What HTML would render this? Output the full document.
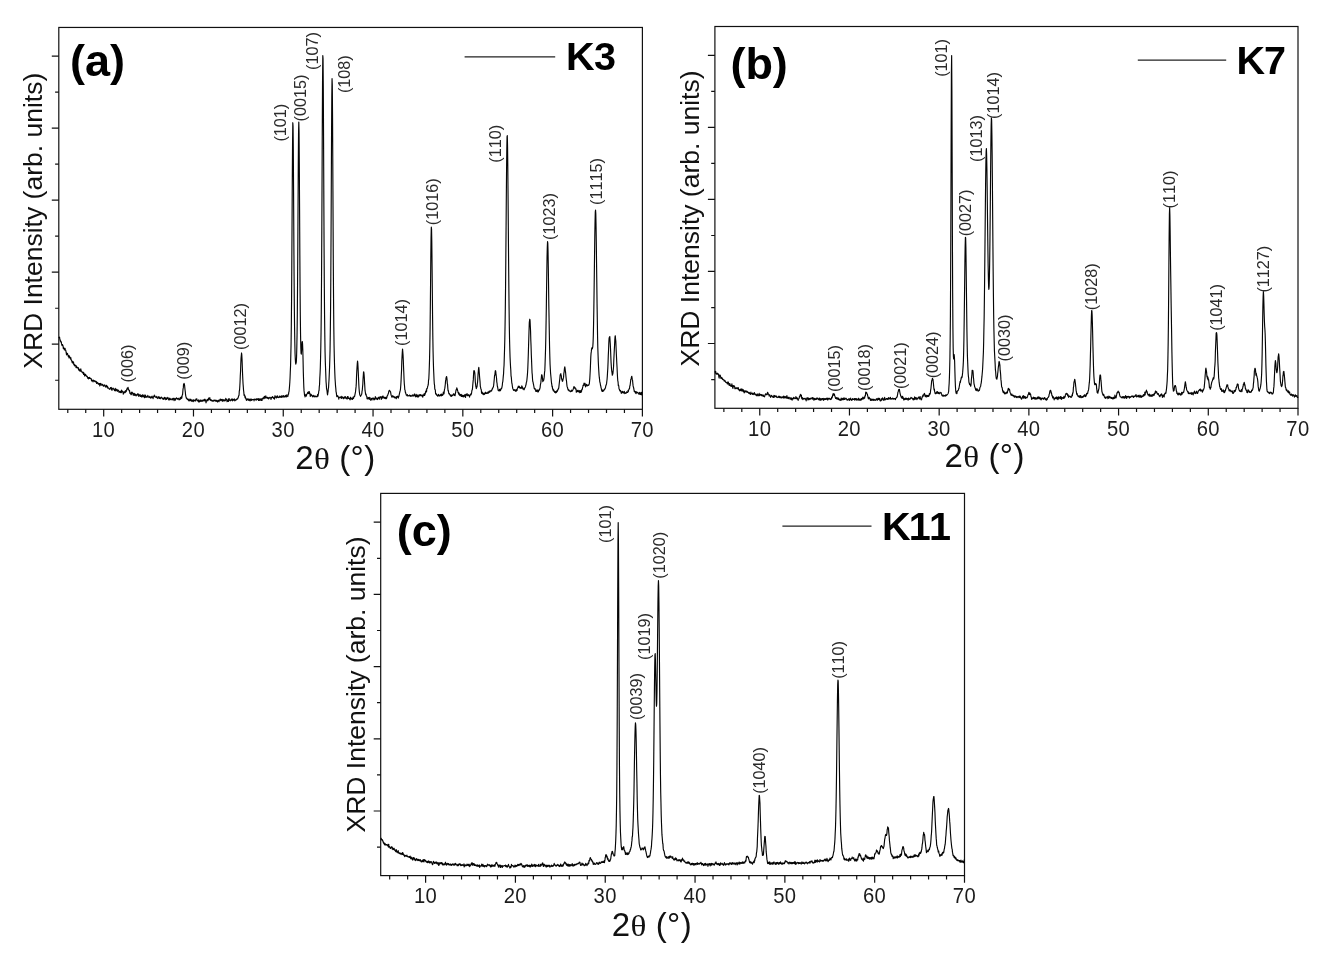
<!DOCTYPE html>
<html lang="en"><head><meta charset="utf-8"><title>XRD patterns K3, K7, K11</title>
<style>html,body{margin:0;padding:0;background:#fff}svg{display:block}text{font-kerning:none;font-variant-ligatures:none}</style></head><body>
<svg width="1328" height="953" viewBox="0 0 1328 953">
<rect width="1328" height="953" fill="#fff"/>
<g id="panel-a">
<rect x="58.80" y="27.45" width="583.60" height="381.85" fill="none" stroke="#111" stroke-width="1.20"/>
<path d="M67.78 409.30 v3.80 M85.74 409.30 v3.80 M103.69 409.30 v7.20 M121.65 409.30 v3.80 M139.61 409.30 v3.80 M157.56 409.30 v3.80 M175.52 409.30 v3.80 M193.48 409.30 v7.20 M211.43 409.30 v3.80 M229.39 409.30 v3.80 M247.35 409.30 v3.80 M265.30 409.30 v3.80 M283.26 409.30 v7.20 M301.22 409.30 v3.80 M319.18 409.30 v3.80 M337.13 409.30 v3.80 M355.09 409.30 v3.80 M373.05 409.30 v7.20 M391.00 409.30 v3.80 M408.96 409.30 v3.80 M426.92 409.30 v3.80 M444.87 409.30 v3.80 M462.83 409.30 v7.20 M480.79 409.30 v3.80 M498.74 409.30 v3.80 M516.70 409.30 v3.80 M534.66 409.30 v3.80 M552.62 409.30 v7.20 M570.57 409.30 v3.80 M588.53 409.30 v3.80 M606.49 409.30 v3.80 M624.44 409.30 v3.80 M642.40 409.30 v7.20 M58.80 56.10 h-7.00 M58.80 92.15 h-3.70 M58.80 128.13 h-7.00 M58.80 164.18 h-3.70 M58.80 200.16 h-7.00 M58.80 236.21 h-3.70 M58.80 272.19 h-7.00 M58.80 308.24 h-3.70 M58.80 344.22 h-7.00 M58.80 380.27 h-3.70" fill="none" stroke="#111" stroke-width="1.20"/>
<text transform="translate(103.59 436.90) scale(0.955 1)" font-family='"Liberation Sans", sans-serif' font-size="21.2" text-anchor="middle" fill="#1c1c1c" letter-spacing="0.3">10</text>
<text transform="translate(193.38 436.90) scale(0.955 1)" font-family='"Liberation Sans", sans-serif' font-size="21.2" text-anchor="middle" fill="#1c1c1c" letter-spacing="0.3">20</text>
<text transform="translate(283.16 436.90) scale(0.955 1)" font-family='"Liberation Sans", sans-serif' font-size="21.2" text-anchor="middle" fill="#1c1c1c" letter-spacing="0.3">30</text>
<text transform="translate(372.95 436.90) scale(0.955 1)" font-family='"Liberation Sans", sans-serif' font-size="21.2" text-anchor="middle" fill="#1c1c1c" letter-spacing="0.3">40</text>
<text transform="translate(462.73 436.90) scale(0.955 1)" font-family='"Liberation Sans", sans-serif' font-size="21.2" text-anchor="middle" fill="#1c1c1c" letter-spacing="0.3">50</text>
<text transform="translate(552.52 436.90) scale(0.955 1)" font-family='"Liberation Sans", sans-serif' font-size="21.2" text-anchor="middle" fill="#1c1c1c" letter-spacing="0.3">60</text>
<text transform="translate(642.30 436.90) scale(0.955 1)" font-family='"Liberation Sans", sans-serif' font-size="21.2" text-anchor="middle" fill="#1c1c1c" letter-spacing="0.3">70</text>
<text y="469.00" font-size="33" fill="#111" font-family='"Liberation Sans", sans-serif' xml:space="preserve"><tspan x="295.20">2</tspan><tspan x="314.00" font-size="30" textLength="15.9" lengthAdjust="spacingAndGlyphs" font-family='"Liberation Serif", serif'>θ</tspan><tspan x="329.57" letter-spacing="0.45"> (°)</tspan></text>
<text transform="translate(41.90 368.80) rotate(-90)" font-family='"Liberation Sans", sans-serif' font-size="26.50" fill="#111">XRD Intensity (arb. units)</text>
<text x="70.00" y="75.50" font-family='"Liberation Sans", sans-serif' font-size="45.00" font-weight="bold" text-anchor="start" fill="#000" >(a)</text>
<path d="M464.60 56.80 H555.20" stroke="#222" stroke-width="1.3" fill="none"/>
<text x="566.10" y="70.40" font-family='"Liberation Sans", sans-serif' font-size="39.60" font-weight="bold" text-anchor="start" fill="#000" letter-spacing="-0.80">K3</text>
<path d="M58.80 337.95 L59.05 337.40 L59.30 337.43 L59.55 337.16 L59.80 339.13 L60.05 339.55 L60.30 341.11 L60.55 340.73 L60.80 341.86 L61.05 342.28 L61.30 341.91 L61.55 343.92 L61.80 344.54 L62.05 345.60 L62.30 344.47 L62.55 344.74 L62.80 345.23 L63.05 345.63 L63.30 348.41 L63.55 347.43 L63.80 347.87 L64.05 348.81 L64.30 349.87 L64.55 349.40 L64.80 348.35 L65.05 348.39 L65.30 350.13 L65.55 350.03 L65.80 350.55 L66.05 351.81 L66.30 353.41 L66.55 354.82 L66.80 353.02 L67.05 353.74 L67.30 354.17 L67.55 353.64 L67.80 354.84 L68.05 355.09 L68.30 356.69 L68.55 356.11 L68.80 355.50 L69.05 357.88 L69.30 357.06 L69.55 356.16 L69.80 357.65 L70.05 357.59 L70.30 358.07 L70.55 359.09 L70.80 357.55 L71.05 358.96 L71.30 360.08 L71.55 360.37 L71.80 361.02 L72.05 362.03 L72.30 362.94 L72.55 361.36 L72.80 362.94 L73.05 361.64 L73.30 362.82 L73.55 362.34 L73.80 364.68 L74.05 365.03 L74.30 364.34 L74.55 365.96 L74.80 364.75 L75.05 365.37 L75.30 365.40 L75.55 365.35 L75.80 366.25 L76.05 367.74 L76.30 365.79 L76.55 366.78 L76.80 366.87 L77.05 367.96 L77.30 367.40 L77.55 367.70 L77.80 367.60 L78.05 367.99 L78.30 367.65 L78.55 369.89 L78.80 368.65 L79.05 369.61 L79.30 370.34 L79.55 369.67 L79.80 370.23 L80.05 371.51 L80.30 370.48 L80.55 370.21 L80.80 368.83 L81.05 370.50 L81.30 371.14 L81.55 371.37 L81.80 371.44 L82.05 372.41 L82.30 372.09 L82.55 372.30 L82.80 373.04 L83.05 372.20 L83.30 372.31 L83.55 374.45 L83.80 374.04 L84.05 372.98 L84.30 374.35 L84.55 375.28 L84.80 376.16 L85.05 375.32 L85.30 374.33 L85.55 374.24 L85.80 375.23 L86.05 375.47 L86.30 375.53 L86.55 376.32 L86.80 375.88 L87.05 376.90 L87.30 376.49 L87.55 377.22 L87.80 378.36 L88.05 378.25 L88.30 377.53 L88.55 378.86 L88.80 377.61 L89.05 378.50 L89.30 378.05 L89.55 377.41 L89.80 378.35 L90.05 378.52 L90.30 378.41 L90.55 378.74 L90.80 378.44 L91.05 378.46 L91.30 378.93 L91.55 380.83 L91.80 380.74 L92.05 380.07 L92.30 380.91 L92.55 380.60 L92.80 380.45 L93.05 381.97 L93.30 381.04 L93.55 380.17 L93.80 380.42 L94.05 380.65 L94.30 380.76 L94.55 381.42 L94.80 380.80 L95.05 381.61 L95.30 381.72 L95.55 381.18 L95.80 381.75 L96.05 382.21 L96.30 381.46 L96.55 383.39 L96.80 381.98 L97.05 382.32 L97.30 382.69 L97.55 383.17 L97.80 382.97 L98.05 383.82 L98.30 383.84 L98.55 384.35 L98.80 383.32 L99.05 384.14 L99.30 383.59 L99.55 383.48 L99.80 385.95 L100.05 384.39 L100.30 383.49 L100.55 384.82 L100.80 383.26 L101.05 384.20 L101.30 385.19 L101.55 384.70 L101.80 385.00 L102.05 385.05 L102.30 385.10 L102.55 384.23 L102.80 384.68 L103.05 385.18 L103.30 386.15 L103.55 385.64 L103.80 386.15 L104.05 385.91 L104.30 385.03 L104.55 385.80 L104.80 384.95 L105.05 385.52 L105.30 386.06 L105.55 386.96 L105.80 387.11 L106.05 386.40 L106.30 386.17 L106.55 385.25 L106.80 386.60 L107.05 387.03 L107.30 386.85 L107.55 386.31 L107.80 388.16 L108.05 387.84 L108.30 388.00 L108.55 388.05 L108.80 388.06 L109.05 388.82 L109.30 388.79 L109.55 388.98 L109.80 389.33 L110.05 389.12 L110.30 388.50 L110.55 387.63 L110.80 387.95 L111.05 387.56 L111.30 387.45 L111.55 389.84 L111.80 388.54 L112.05 390.29 L112.30 388.73 L112.55 388.82 L112.80 388.72 L113.05 387.99 L113.30 388.82 L113.55 388.62 L113.80 389.09 L114.05 389.73 L114.30 389.41 L114.55 390.52 L114.80 389.49 L115.05 390.90 L115.30 388.27 L115.55 390.21 L115.80 390.73 L116.05 389.62 L116.30 390.32 L116.55 389.72 L116.80 389.21 L117.05 389.93 L117.30 391.39 L117.55 390.00 L117.80 390.18 L118.05 390.07 L118.30 390.85 L118.55 390.35 L118.80 391.03 L119.05 392.52 L119.30 391.75 L119.55 391.48 L119.80 391.51 L120.05 391.88 L120.30 391.17 L120.55 392.57 L120.80 392.09 L121.05 391.54 L121.30 392.64 L121.55 390.08 L121.80 391.24 L122.05 391.92 L122.30 391.00 L122.55 391.43 L122.80 392.00 L123.05 392.01 L123.30 394.24 L123.55 392.86 L123.80 391.85 L124.05 392.91 L124.30 391.97 L124.55 392.51 L124.80 391.91 L125.05 392.71 L125.30 390.79 L125.55 392.19 L125.80 391.91 L126.05 390.45 L126.30 391.53 L126.55 389.58 L126.80 390.08 L127.05 388.71 L127.30 387.96 L127.55 387.97 L127.80 388.62 L128.05 387.41 L128.30 389.43 L128.55 389.02 L128.80 390.02 L129.05 390.38 L129.30 391.04 L129.55 390.46 L129.80 392.73 L130.05 393.51 L130.30 392.79 L130.55 393.63 L130.80 394.07 L131.05 394.66 L131.30 394.58 L131.55 392.34 L131.80 392.74 L132.05 392.21 L132.30 392.39 L132.55 392.90 L132.80 394.09 L133.05 393.83 L133.30 395.30 L133.55 394.28 L133.80 393.34 L134.05 393.25 L134.30 393.83 L134.55 395.47 L134.80 394.29 L135.05 393.92 L135.30 394.82 L135.55 395.31 L135.80 394.52 L136.05 395.92 L136.30 395.28 L136.55 395.35 L136.80 394.71 L137.05 394.98 L137.30 394.68 L137.55 393.72 L137.80 395.20 L138.05 394.33 L138.30 395.27 L138.55 394.15 L138.80 396.32 L139.05 395.48 L139.30 395.89 L139.55 395.77 L139.80 394.96 L140.05 394.42 L140.30 395.56 L140.55 396.51 L140.80 395.76 L141.05 396.40 L141.30 396.78 L141.55 395.40 L141.80 396.48 L142.05 396.99 L142.30 395.32 L142.55 394.86 L142.80 395.88 L143.05 396.07 L143.30 396.69 L143.55 395.49 L143.80 396.12 L144.05 394.86 L144.30 397.16 L144.55 397.69 L144.80 397.52 L145.05 395.87 L145.30 396.42 L145.55 395.11 L145.80 397.28 L146.05 397.21 L146.30 396.60 L146.55 397.08 L146.80 396.80 L147.05 397.12 L147.30 396.63 L147.55 397.01 L147.80 395.40 L148.05 396.22 L148.30 396.81 L148.55 396.82 L148.80 397.16 L149.05 397.58 L149.30 396.31 L149.55 396.76 L149.80 397.09 L150.05 397.27 L150.30 397.80 L150.55 396.97 L150.80 398.13 L151.05 396.87 L151.30 397.73 L151.55 396.97 L151.80 397.58 L152.05 396.14 L152.30 397.12 L152.55 397.10 L152.80 397.80 L153.05 398.59 L153.30 397.24 L153.55 396.71 L153.80 396.15 L154.05 396.49 L154.30 395.07 L154.55 396.62 L154.80 395.92 L155.05 396.31 L155.30 397.11 L155.55 397.13 L155.80 397.06 L156.05 397.05 L156.30 397.43 L156.55 397.64 L156.80 396.36 L157.05 397.64 L157.30 397.76 L157.55 398.38 L157.80 398.54 L158.05 397.82 L158.30 397.31 L158.55 396.68 L158.80 397.32 L159.05 397.76 L159.30 398.35 L159.55 396.98 L159.80 397.92 L160.05 398.03 L160.30 398.74 L160.55 398.06 L160.80 397.56 L161.05 397.49 L161.30 397.23 L161.55 397.17 L161.80 398.18 L162.05 398.18 L162.30 398.45 L162.55 398.87 L162.80 397.99 L163.05 398.95 L163.30 398.62 L163.55 398.57 L163.80 399.52 L164.05 398.59 L164.30 397.28 L164.55 398.61 L164.80 397.79 L165.05 397.53 L165.30 397.93 L165.55 398.88 L165.80 399.72 L166.05 398.26 L166.30 399.40 L166.55 399.43 L166.80 397.86 L167.05 398.71 L167.30 398.60 L167.55 398.47 L167.80 397.31 L168.05 397.99 L168.30 398.94 L168.55 399.38 L168.80 400.02 L169.05 398.91 L169.30 399.99 L169.55 399.53 L169.80 398.15 L170.05 399.39 L170.30 398.82 L170.55 398.93 L170.80 399.19 L171.05 399.90 L171.30 399.20 L171.55 399.05 L171.80 399.28 L172.05 399.17 L172.30 398.89 L172.55 399.80 L172.80 398.86 L173.05 398.26 L173.30 398.64 L173.55 398.36 L173.80 399.24 L174.05 400.71 L174.30 398.92 L174.55 399.34 L174.80 398.41 L175.05 399.05 L175.30 400.10 L175.55 399.75 L175.80 398.76 L176.05 398.61 L176.30 398.13 L176.55 397.82 L176.80 398.11 L177.05 398.19 L177.30 398.99 L177.55 399.17 L177.80 398.82 L178.05 398.52 L178.30 398.24 L178.55 399.20 L178.80 398.88 L179.05 399.92 L179.30 399.67 L179.55 399.52 L179.80 398.89 L180.05 397.76 L180.30 398.81 L180.55 399.10 L180.80 397.30 L181.05 398.12 L181.30 398.40 L181.55 396.64 L181.80 398.10 L182.05 396.22 L182.30 394.95 L182.55 394.71 L182.80 391.88 L183.05 388.80 L183.30 387.91 L183.55 384.20 L183.80 385.00 L184.05 383.41 L184.30 383.96 L184.55 385.01 L184.80 387.61 L185.05 389.99 L185.30 391.82 L185.55 394.59 L185.80 396.06 L186.05 397.13 L186.30 398.12 L186.55 398.47 L186.80 398.21 L187.05 399.10 L187.30 398.72 L187.55 399.57 L187.80 399.75 L188.05 399.41 L188.30 399.09 L188.55 400.21 L188.80 400.83 L189.05 400.72 L189.30 400.22 L189.55 400.82 L189.80 399.13 L190.05 399.16 L190.30 399.58 L190.55 400.66 L190.80 400.00 L191.05 399.44 L191.30 400.88 L191.55 401.19 L191.80 401.24 L192.05 400.47 L192.30 400.06 L192.55 400.77 L192.80 400.83 L193.05 401.66 L193.30 401.66 L193.55 399.89 L193.80 399.88 L194.05 400.26 L194.30 400.14 L194.55 400.45 L194.80 400.84 L195.05 400.53 L195.30 401.04 L195.55 400.21 L195.80 399.41 L196.05 398.92 L196.30 399.46 L196.55 399.43 L196.80 398.84 L197.05 400.61 L197.30 400.69 L197.55 400.85 L197.80 400.76 L198.05 400.33 L198.30 400.32 L198.55 401.94 L198.80 399.84 L199.05 401.13 L199.30 401.88 L199.55 401.44 L199.80 401.16 L200.05 401.47 L200.30 399.99 L200.55 400.39 L200.80 401.18 L201.05 399.98 L201.30 400.31 L201.55 401.15 L201.80 401.15 L202.05 401.43 L202.30 401.01 L202.55 400.21 L202.80 400.10 L203.05 400.86 L203.30 400.68 L203.55 399.84 L203.80 400.39 L204.05 400.32 L204.30 400.92 L204.55 399.38 L204.80 400.04 L205.05 399.18 L205.30 399.84 L205.55 400.55 L205.80 401.53 L206.05 402.81 L206.30 400.81 L206.55 400.64 L206.80 400.99 L207.05 399.60 L207.30 400.79 L207.55 399.50 L207.80 400.71 L208.05 400.18 L208.30 399.00 L208.55 398.05 L208.80 399.59 L209.05 398.35 L209.30 398.33 L209.55 398.83 L209.80 397.54 L210.05 399.46 L210.30 400.20 L210.55 400.16 L210.80 400.45 L211.05 399.63 L211.30 400.81 L211.55 400.80 L211.80 400.59 L212.05 400.33 L212.30 400.94 L212.55 401.21 L212.80 400.79 L213.05 401.11 L213.30 401.17 L213.55 401.05 L213.80 400.05 L214.05 400.10 L214.30 400.08 L214.55 400.08 L214.80 400.83 L215.05 400.93 L215.30 400.42 L215.55 400.80 L215.80 400.12 L216.05 401.35 L216.30 400.37 L216.55 401.13 L216.80 400.59 L217.05 400.74 L217.30 400.79 L217.55 402.03 L217.80 401.06 L218.05 400.90 L218.30 400.20 L218.55 400.58 L218.80 401.29 L219.05 401.73 L219.30 399.97 L219.55 400.10 L219.80 400.14 L220.05 399.65 L220.30 399.02 L220.55 399.87 L220.80 400.70 L221.05 399.59 L221.30 400.31 L221.55 400.21 L221.80 400.05 L222.05 399.23 L222.30 401.09 L222.55 400.72 L222.80 399.81 L223.05 401.15 L223.30 399.84 L223.55 400.72 L223.80 399.72 L224.05 400.21 L224.30 399.98 L224.55 400.90 L224.80 400.86 L225.05 400.93 L225.30 399.93 L225.55 400.34 L225.80 398.29 L226.05 399.28 L226.30 399.07 L226.55 399.49 L226.80 399.71 L227.05 401.69 L227.30 400.44 L227.55 400.56 L227.80 400.33 L228.05 401.29 L228.30 399.12 L228.55 401.32 L228.80 399.80 L229.05 398.53 L229.30 399.24 L229.55 399.65 L229.80 400.21 L230.05 400.39 L230.30 400.81 L230.55 400.51 L230.80 400.36 L231.05 399.29 L231.30 400.24 L231.55 400.25 L231.80 399.47 L232.05 398.74 L232.30 399.12 L232.55 400.82 L232.80 399.57 L233.05 399.46 L233.30 399.60 L233.55 400.13 L233.80 399.40 L234.05 399.13 L234.30 398.94 L234.55 400.20 L234.80 400.85 L235.05 399.88 L235.30 400.45 L235.55 400.09 L235.80 399.90 L236.05 399.82 L236.30 399.41 L236.55 399.79 L236.80 399.18 L237.05 398.78 L237.30 399.05 L237.55 398.39 L237.80 398.56 L238.05 397.59 L238.30 397.47 L238.55 395.95 L238.80 395.74 L239.05 394.99 L239.30 390.89 L239.55 390.21 L239.80 386.45 L240.05 381.91 L240.30 375.51 L240.55 371.25 L240.80 363.59 L241.05 358.15 L241.30 355.46 L241.55 352.95 L241.80 354.92 L242.05 359.56 L242.30 366.49 L242.55 373.53 L242.80 378.97 L243.05 383.81 L243.30 386.89 L243.55 390.29 L243.80 392.11 L244.05 395.28 L244.30 395.62 L244.55 394.86 L244.80 395.69 L245.05 397.65 L245.30 396.45 L245.55 397.50 L245.80 398.89 L246.05 398.66 L246.30 399.98 L246.55 400.38 L246.80 399.13 L247.05 399.69 L247.30 398.77 L247.55 399.09 L247.80 399.64 L248.05 400.01 L248.30 399.76 L248.55 400.30 L248.80 398.83 L249.05 399.32 L249.30 399.05 L249.55 400.30 L249.80 400.72 L250.05 400.87 L250.30 399.32 L250.55 400.06 L250.80 400.11 L251.05 398.84 L251.30 399.68 L251.55 400.36 L251.80 400.34 L252.05 399.75 L252.30 399.63 L252.55 399.70 L252.80 399.65 L253.05 399.41 L253.30 399.52 L253.55 399.54 L253.80 399.37 L254.05 400.85 L254.30 399.48 L254.55 399.34 L254.80 399.02 L255.05 399.39 L255.30 399.41 L255.55 399.80 L255.80 399.87 L256.05 400.09 L256.30 398.79 L256.55 399.49 L256.80 399.84 L257.05 398.77 L257.30 399.53 L257.55 399.49 L257.80 398.83 L258.05 398.94 L258.30 398.53 L258.55 400.54 L258.80 399.71 L259.05 399.43 L259.30 400.48 L259.55 398.87 L259.80 400.09 L260.05 400.01 L260.30 400.07 L260.55 399.42 L260.80 398.92 L261.05 398.58 L261.30 400.40 L261.55 399.87 L261.80 399.83 L262.05 400.36 L262.30 398.93 L262.55 398.48 L262.80 398.10 L263.05 398.19 L263.30 397.71 L263.55 398.21 L263.80 398.79 L264.05 398.64 L264.30 396.23 L264.55 396.63 L264.80 398.04 L265.05 396.95 L265.30 396.65 L265.55 397.27 L265.80 395.82 L266.05 398.07 L266.30 397.41 L266.55 397.55 L266.80 397.30 L267.05 397.57 L267.30 397.26 L267.55 397.42 L267.80 398.52 L268.05 398.45 L268.30 397.56 L268.55 399.02 L268.80 398.70 L269.05 398.45 L269.30 397.79 L269.55 397.72 L269.80 397.23 L270.05 397.31 L270.30 397.83 L270.55 398.07 L270.80 398.06 L271.05 399.53 L271.30 397.69 L271.55 398.07 L271.80 397.37 L272.05 397.75 L272.30 396.50 L272.55 396.90 L272.80 396.94 L273.05 397.39 L273.30 397.37 L273.55 398.42 L273.80 398.27 L274.05 398.67 L274.30 397.66 L274.55 399.13 L274.80 396.92 L275.05 395.70 L275.30 396.59 L275.55 396.87 L275.80 397.36 L276.05 396.98 L276.30 397.59 L276.55 397.96 L276.80 396.56 L277.05 396.06 L277.30 395.79 L277.55 397.12 L277.80 397.39 L278.05 397.46 L278.30 397.55 L278.55 397.60 L278.80 396.89 L279.05 397.50 L279.30 396.17 L279.55 396.51 L279.80 397.17 L280.05 396.32 L280.30 397.13 L280.55 397.27 L280.80 396.62 L281.05 396.30 L281.30 396.11 L281.55 397.50 L281.80 395.81 L282.05 396.14 L282.30 396.31 L282.55 396.39 L282.80 397.19 L283.05 395.88 L283.30 395.49 L283.55 396.97 L283.80 396.26 L284.05 396.79 L284.30 396.20 L284.55 396.83 L284.80 396.97 L285.05 396.80 L285.30 395.86 L285.55 395.47 L285.80 396.28 L286.05 396.68 L286.30 396.99 L286.55 396.39 L286.80 394.94 L287.05 396.23 L287.30 396.16 L287.55 395.87 L287.80 396.58 L288.05 395.43 L288.30 394.01 L288.55 394.18 L288.80 392.14 L289.05 391.56 L289.30 388.83 L289.55 385.85 L289.80 382.47 L290.05 378.02 L290.30 371.54 L290.55 366.13 L290.80 355.51 L291.05 345.10 L291.30 327.09 L291.55 301.67 L291.80 265.27 L292.05 222.45 L292.30 178.60 L292.55 144.09 L292.80 122.70 L293.05 126.19 L293.30 148.28 L293.55 187.81 L293.80 231.86 L294.05 271.78 L294.30 304.10 L294.55 326.29 L294.80 341.67 L295.05 353.59 L295.30 359.04 L295.55 362.66 L295.80 364.08 L296.05 363.09 L296.30 362.12 L296.55 357.30 L296.80 348.01 L297.05 335.06 L297.30 315.93 L297.55 285.41 L297.80 248.52 L298.05 205.15 L298.30 162.48 L298.55 132.80 L298.80 122.04 L299.05 131.78 L299.30 163.60 L299.55 204.56 L299.80 247.87 L300.05 286.79 L300.30 315.06 L300.55 334.59 L300.80 347.13 L301.05 353.25 L301.30 354.09 L301.55 350.85 L301.80 345.89 L302.05 342.09 L302.30 341.54 L302.55 343.70 L302.80 349.70 L303.05 359.82 L303.30 371.37 L303.55 379.56 L303.80 386.60 L304.05 390.89 L304.30 392.81 L304.55 395.57 L304.80 394.15 L305.05 396.85 L305.30 395.59 L305.55 395.27 L305.80 395.98 L306.05 394.69 L306.30 396.21 L306.55 395.16 L306.80 394.15 L307.05 393.87 L307.30 393.81 L307.55 392.70 L307.80 392.43 L308.05 392.18 L308.30 393.35 L308.55 391.85 L308.80 392.77 L309.05 393.64 L309.30 391.46 L309.55 393.63 L309.80 393.11 L310.05 393.72 L310.30 396.44 L310.55 395.12 L310.80 395.82 L311.05 394.37 L311.30 394.87 L311.55 395.00 L311.80 395.15 L312.05 395.80 L312.30 395.98 L312.55 396.82 L312.80 395.92 L313.05 396.29 L313.30 395.81 L313.55 396.17 L313.80 395.26 L314.05 396.83 L314.30 396.01 L314.55 396.23 L314.80 396.24 L315.05 396.86 L315.30 396.54 L315.55 396.10 L315.80 396.13 L316.05 396.43 L316.30 396.47 L316.55 396.70 L316.80 396.87 L317.05 396.91 L317.30 396.28 L317.55 394.53 L317.80 396.18 L318.05 396.00 L318.30 394.08 L318.55 393.26 L318.80 390.76 L319.05 390.68 L319.30 386.56 L319.55 384.79 L319.80 377.95 L320.05 373.83 L320.30 368.07 L320.55 358.76 L320.80 347.37 L321.05 332.40 L321.30 309.06 L321.55 276.72 L321.80 232.91 L322.05 180.00 L322.30 125.41 L322.55 80.71 L322.80 55.64 L323.05 58.68 L323.30 87.74 L323.55 136.32 L323.80 190.32 L324.05 242.55 L324.30 282.78 L324.55 314.10 L324.80 334.84 L325.05 351.44 L325.30 361.38 L325.55 368.05 L325.80 374.75 L326.05 381.71 L326.30 384.67 L326.55 388.78 L326.80 389.71 L327.05 391.07 L327.30 393.72 L327.55 394.82 L327.80 392.88 L328.05 391.93 L328.30 388.69 L328.55 387.51 L328.80 383.00 L329.05 379.24 L329.30 373.50 L329.55 367.69 L329.80 359.85 L330.05 350.08 L330.30 332.84 L330.55 311.70 L330.80 278.28 L331.05 235.46 L331.30 184.66 L331.55 134.46 L331.80 95.73 L332.05 78.66 L332.30 85.30 L332.55 117.74 L332.80 164.94 L333.05 215.11 L333.30 262.97 L333.55 298.84 L333.80 326.85 L334.05 345.20 L334.30 356.54 L334.55 365.67 L334.80 372.85 L335.05 378.70 L335.30 382.31 L335.55 386.14 L335.80 388.41 L336.05 391.75 L336.30 392.66 L336.55 394.87 L336.80 396.59 L337.05 396.64 L337.30 395.83 L337.55 395.56 L337.80 395.96 L338.05 396.97 L338.30 396.82 L338.55 397.33 L338.80 399.05 L339.05 397.43 L339.30 397.52 L339.55 397.34 L339.80 397.38 L340.05 397.23 L340.30 397.07 L340.55 397.58 L340.80 397.81 L341.05 397.27 L341.30 396.38 L341.55 398.46 L341.80 397.26 L342.05 397.70 L342.30 397.67 L342.55 396.92 L342.80 397.42 L343.05 397.79 L343.30 398.51 L343.55 398.74 L343.80 397.62 L344.05 398.32 L344.30 396.91 L344.55 397.49 L344.80 397.89 L345.05 397.30 L345.30 396.60 L345.55 397.60 L345.80 397.90 L346.05 398.53 L346.30 398.17 L346.55 397.89 L346.80 397.51 L347.05 399.11 L347.30 397.05 L347.55 396.61 L347.80 397.44 L348.05 396.61 L348.30 398.49 L348.55 398.36 L348.80 398.48 L349.05 398.01 L349.30 398.48 L349.55 399.18 L349.80 398.93 L350.05 399.91 L350.30 398.83 L350.55 397.20 L350.80 398.38 L351.05 398.10 L351.30 399.10 L351.55 398.40 L351.80 399.02 L352.05 398.49 L352.30 398.74 L352.55 399.44 L352.80 397.99 L353.05 397.11 L353.30 397.27 L353.55 398.44 L353.80 397.37 L354.05 396.63 L354.30 396.03 L354.55 396.52 L354.80 395.37 L355.05 394.09 L355.30 392.83 L355.55 391.48 L355.80 389.15 L356.05 386.91 L356.30 383.36 L356.55 375.95 L356.80 371.02 L357.05 366.99 L357.30 363.23 L357.55 361.18 L357.80 363.01 L358.05 367.41 L358.30 372.89 L358.55 378.49 L358.80 384.16 L359.05 388.54 L359.30 391.35 L359.55 393.53 L359.80 394.71 L360.05 395.41 L360.30 395.78 L360.55 396.36 L360.80 395.73 L361.05 395.42 L361.30 394.88 L361.55 394.51 L361.80 393.62 L362.05 391.11 L362.30 390.03 L362.55 386.81 L362.80 384.32 L363.05 378.84 L363.30 375.53 L363.55 371.87 L363.80 372.02 L364.05 374.20 L364.30 377.60 L364.55 382.64 L364.80 386.53 L365.05 390.71 L365.30 391.92 L365.55 393.82 L365.80 394.82 L366.05 394.13 L366.30 395.77 L366.55 396.28 L366.80 396.34 L367.05 398.60 L367.30 397.49 L367.55 398.96 L367.80 398.86 L368.05 397.89 L368.30 398.67 L368.55 397.52 L368.80 397.98 L369.05 398.49 L369.30 399.41 L369.55 398.51 L369.80 397.23 L370.05 398.25 L370.30 399.16 L370.55 399.09 L370.80 400.36 L371.05 398.73 L371.30 398.86 L371.55 398.39 L371.80 399.10 L372.05 399.87 L372.30 398.21 L372.55 398.59 L372.80 398.08 L373.05 398.07 L373.30 397.98 L373.55 398.49 L373.80 399.80 L374.05 398.21 L374.30 399.26 L374.55 399.68 L374.80 399.02 L375.05 399.34 L375.30 396.68 L375.55 398.08 L375.80 397.73 L376.05 398.28 L376.30 398.26 L376.55 398.98 L376.80 398.18 L377.05 399.45 L377.30 398.58 L377.55 399.55 L377.80 398.91 L378.05 397.85 L378.30 397.26 L378.55 397.35 L378.80 397.61 L379.05 398.30 L379.30 399.14 L379.55 398.72 L379.80 397.23 L380.05 396.72 L380.30 397.48 L380.55 396.88 L380.80 397.70 L381.05 397.13 L381.30 399.41 L381.55 396.89 L381.80 397.76 L382.05 398.29 L382.30 396.55 L382.55 396.23 L382.80 397.90 L383.05 396.08 L383.30 396.67 L383.55 397.13 L383.80 398.01 L384.05 397.97 L384.30 397.32 L384.55 398.42 L384.80 397.46 L385.05 398.01 L385.30 397.69 L385.55 398.59 L385.80 397.72 L386.05 397.22 L386.30 398.68 L386.55 398.39 L386.80 397.83 L387.05 396.38 L387.30 395.82 L387.55 395.66 L387.80 394.93 L388.05 394.17 L388.30 393.58 L388.55 392.97 L388.80 391.28 L389.05 391.07 L389.30 390.28 L389.55 390.43 L389.80 390.62 L390.05 391.34 L390.30 391.82 L390.55 391.73 L390.80 393.29 L391.05 394.82 L391.30 395.63 L391.55 396.19 L391.80 397.22 L392.05 396.81 L392.30 395.81 L392.55 395.76 L392.80 395.97 L393.05 396.99 L393.30 396.48 L393.55 396.30 L393.80 396.32 L394.05 396.98 L394.30 397.67 L394.55 396.96 L394.80 397.92 L395.05 397.43 L395.30 397.62 L395.55 397.17 L395.80 397.24 L396.05 398.16 L396.30 398.70 L396.55 396.54 L396.80 397.10 L397.05 396.92 L397.30 397.10 L397.55 396.18 L397.80 396.30 L398.05 397.47 L398.30 398.06 L398.55 396.49 L398.80 396.67 L399.05 395.31 L399.30 394.32 L399.55 393.21 L399.80 392.08 L400.05 391.00 L400.30 390.39 L400.55 388.29 L400.80 385.07 L401.05 380.87 L401.30 375.07 L401.55 370.40 L401.80 361.20 L402.05 356.65 L402.30 352.15 L402.55 349.06 L402.80 351.90 L403.05 354.96 L403.30 360.18 L403.55 367.27 L403.80 372.78 L404.05 379.29 L404.30 383.82 L404.55 386.28 L404.80 389.82 L405.05 389.97 L405.30 392.18 L405.55 392.35 L405.80 393.64 L406.05 394.05 L406.30 395.07 L406.55 395.20 L406.80 395.25 L407.05 395.81 L407.30 394.57 L407.55 395.16 L407.80 395.89 L408.05 396.04 L408.30 395.98 L408.55 395.69 L408.80 395.58 L409.05 395.76 L409.30 395.66 L409.55 395.00 L409.80 395.07 L410.05 396.15 L410.30 395.48 L410.55 395.59 L410.80 396.29 L411.05 396.07 L411.30 396.07 L411.55 396.14 L411.80 395.38 L412.05 395.63 L412.30 395.89 L412.55 395.49 L412.80 394.77 L413.05 395.98 L413.30 396.07 L413.55 395.85 L413.80 395.57 L414.05 395.29 L414.30 394.16 L414.55 394.85 L414.80 393.97 L415.05 395.82 L415.30 396.70 L415.55 396.81 L415.80 395.14 L416.05 395.95 L416.30 396.62 L416.55 395.57 L416.80 394.30 L417.05 396.42 L417.30 395.33 L417.55 395.44 L417.80 397.14 L418.05 396.08 L418.30 396.57 L418.55 396.91 L418.80 395.17 L419.05 394.78 L419.30 395.74 L419.55 394.91 L419.80 395.95 L420.05 395.77 L420.30 394.89 L420.55 395.50 L420.80 394.60 L421.05 394.82 L421.30 395.26 L421.55 395.73 L421.80 396.00 L422.05 395.48 L422.30 396.42 L422.55 394.97 L422.80 397.10 L423.05 395.14 L423.30 395.15 L423.55 395.60 L423.80 394.68 L424.05 394.01 L424.30 393.63 L424.55 395.54 L424.80 394.74 L425.05 394.29 L425.30 393.59 L425.55 391.59 L425.80 391.81 L426.05 392.17 L426.30 389.93 L426.55 391.71 L426.80 388.59 L427.05 388.45 L427.30 388.27 L427.55 387.15 L427.80 385.84 L428.05 385.47 L428.30 384.21 L428.55 380.06 L428.80 379.02 L429.05 373.72 L429.30 367.33 L429.55 359.12 L429.80 347.33 L430.05 331.75 L430.30 309.41 L430.55 285.01 L430.80 258.30 L431.05 237.95 L431.30 227.16 L431.55 229.00 L431.80 241.94 L432.05 264.03 L432.30 288.77 L432.55 314.66 L432.80 335.35 L433.05 350.36 L433.30 360.68 L433.55 368.78 L433.80 373.91 L434.05 380.08 L434.30 383.79 L434.55 385.09 L434.80 389.15 L435.05 389.48 L435.30 389.84 L435.55 393.25 L435.80 394.22 L436.05 394.05 L436.30 393.80 L436.55 395.01 L436.80 394.54 L437.05 395.38 L437.30 395.71 L437.55 396.02 L437.80 395.38 L438.05 395.03 L438.30 395.91 L438.55 394.38 L438.80 395.53 L439.05 395.61 L439.30 395.79 L439.55 395.32 L439.80 396.05 L440.05 395.98 L440.30 394.90 L440.55 395.12 L440.80 395.39 L441.05 394.22 L441.30 394.08 L441.55 395.83 L441.80 395.35 L442.05 394.31 L442.30 395.48 L442.55 394.66 L442.80 394.99 L443.05 394.53 L443.30 392.19 L443.55 393.37 L443.80 393.97 L444.05 393.40 L444.30 390.90 L444.55 389.14 L444.80 388.40 L445.05 386.38 L445.30 384.25 L445.55 381.14 L445.80 379.93 L446.05 377.92 L446.30 377.18 L446.55 376.47 L446.80 377.69 L447.05 379.60 L447.30 383.59 L447.55 384.38 L447.80 387.89 L448.05 390.59 L448.30 390.33 L448.55 391.84 L448.80 393.53 L449.05 393.84 L449.30 393.52 L449.55 394.27 L449.80 394.71 L450.05 394.93 L450.30 395.69 L450.55 395.65 L450.80 396.22 L451.05 394.71 L451.30 396.29 L451.55 396.36 L451.80 395.63 L452.05 395.52 L452.30 395.73 L452.55 395.16 L452.80 394.70 L453.05 395.26 L453.30 394.26 L453.55 393.76 L453.80 393.82 L454.05 394.04 L454.30 394.99 L454.55 395.43 L454.80 395.31 L455.05 395.66 L455.30 393.98 L455.55 392.98 L455.80 391.40 L456.05 389.91 L456.30 389.82 L456.55 389.60 L456.80 387.75 L457.05 389.12 L457.30 388.97 L457.55 390.57 L457.80 391.03 L458.05 392.67 L458.30 392.52 L458.55 393.77 L458.80 392.58 L459.05 394.64 L459.30 394.85 L459.55 393.82 L459.80 395.51 L460.05 394.36 L460.30 395.86 L460.55 394.65 L460.80 395.38 L461.05 395.16 L461.30 394.42 L461.55 396.53 L461.80 396.29 L462.05 395.11 L462.30 396.46 L462.55 396.58 L462.80 395.66 L463.05 395.38 L463.30 396.87 L463.55 395.57 L463.80 396.32 L464.05 396.77 L464.30 395.45 L464.55 394.82 L464.80 396.27 L465.05 394.93 L465.30 394.85 L465.55 397.44 L465.80 394.43 L466.05 395.27 L466.30 394.35 L466.55 394.61 L466.80 395.18 L467.05 393.65 L467.30 395.06 L467.55 395.73 L467.80 395.74 L468.05 395.24 L468.30 394.61 L468.55 395.33 L468.80 395.25 L469.05 395.24 L469.30 396.16 L469.55 397.07 L469.80 394.97 L470.05 395.74 L470.30 394.63 L470.55 393.97 L470.80 394.36 L471.05 394.80 L471.30 393.87 L471.55 393.29 L471.80 391.22 L472.05 389.97 L472.30 389.83 L472.55 387.62 L472.80 384.56 L473.05 381.87 L473.30 379.65 L473.55 374.56 L473.80 371.01 L474.05 370.56 L474.30 371.11 L474.55 371.64 L474.80 373.14 L475.05 376.28 L475.30 381.86 L475.55 383.98 L475.80 386.24 L476.05 387.06 L476.30 388.61 L476.55 387.82 L476.80 387.34 L477.05 386.37 L477.30 383.95 L477.55 382.47 L477.80 378.74 L478.05 374.31 L478.30 371.62 L478.55 368.51 L478.80 367.34 L479.05 369.69 L479.30 372.95 L479.55 376.44 L479.80 379.38 L480.05 381.89 L480.30 386.08 L480.55 387.03 L480.80 388.58 L481.05 389.40 L481.30 389.70 L481.55 393.28 L481.80 392.11 L482.05 392.45 L482.30 392.10 L482.55 393.99 L482.80 393.47 L483.05 393.71 L483.30 394.10 L483.55 394.13 L483.80 394.64 L484.05 392.92 L484.30 394.49 L484.55 393.86 L484.80 393.86 L485.05 393.53 L485.30 393.50 L485.55 392.19 L485.80 392.82 L486.05 393.53 L486.30 393.11 L486.55 392.88 L486.80 393.47 L487.05 393.08 L487.30 392.92 L487.55 392.99 L487.80 392.07 L488.05 393.34 L488.30 392.22 L488.55 391.93 L488.80 392.74 L489.05 391.39 L489.30 391.03 L489.55 391.63 L489.80 392.23 L490.05 391.17 L490.30 391.36 L490.55 390.92 L490.80 390.88 L491.05 390.49 L491.30 390.67 L491.55 391.07 L491.80 390.12 L492.05 389.52 L492.30 388.55 L492.55 388.77 L492.80 387.73 L493.05 387.47 L493.30 387.16 L493.55 385.92 L493.80 384.02 L494.05 381.28 L494.30 378.79 L494.55 375.43 L494.80 375.38 L495.05 373.07 L495.30 370.77 L495.55 370.66 L495.80 371.82 L496.05 374.94 L496.30 376.20 L496.55 378.21 L496.80 382.22 L497.05 383.22 L497.30 386.00 L497.55 386.70 L497.80 388.04 L498.05 389.78 L498.30 390.70 L498.55 390.59 L498.80 390.32 L499.05 390.83 L499.30 390.30 L499.55 389.38 L499.80 390.81 L500.05 389.38 L500.30 390.77 L500.55 389.97 L500.80 389.83 L501.05 388.55 L501.30 388.49 L501.55 388.58 L501.80 388.02 L502.05 386.66 L502.30 385.27 L502.55 382.49 L502.80 381.69 L503.05 378.93 L503.30 376.15 L503.55 373.87 L503.80 368.57 L504.05 365.19 L504.30 357.24 L504.55 349.33 L504.80 339.64 L505.05 326.09 L505.30 309.37 L505.55 287.97 L505.80 260.57 L506.05 230.63 L506.30 199.57 L506.55 171.46 L506.80 149.76 L507.05 136.68 L507.30 135.64 L507.55 146.54 L507.80 166.62 L508.05 194.73 L508.30 225.26 L508.55 255.49 L508.80 282.55 L509.05 305.98 L509.30 325.36 L509.55 339.57 L509.80 348.95 L510.05 356.93 L510.30 362.23 L510.55 366.66 L510.80 370.26 L511.05 376.00 L511.30 377.09 L511.55 380.25 L511.80 383.05 L512.05 383.72 L512.30 385.79 L512.55 387.48 L512.80 388.49 L513.05 389.17 L513.30 389.49 L513.55 390.35 L513.80 390.09 L514.05 389.73 L514.30 389.65 L514.55 390.25 L514.80 390.41 L515.05 390.01 L515.30 391.17 L515.55 390.15 L515.80 390.63 L516.05 391.18 L516.30 389.47 L516.55 390.90 L516.80 390.31 L517.05 390.49 L517.30 388.54 L517.55 388.21 L517.80 387.91 L518.05 387.31 L518.30 386.16 L518.55 387.51 L518.80 386.61 L519.05 386.76 L519.30 386.31 L519.55 387.86 L519.80 387.16 L520.05 387.26 L520.30 388.10 L520.55 388.18 L520.80 387.52 L521.05 388.38 L521.30 388.21 L521.55 387.54 L521.80 385.85 L522.05 387.12 L522.30 388.01 L522.55 387.01 L522.80 388.89 L523.05 388.13 L523.30 388.38 L523.55 389.26 L523.80 389.17 L524.05 389.82 L524.30 389.03 L524.55 388.60 L524.80 387.64 L525.05 387.48 L525.30 386.97 L525.55 386.42 L525.80 385.24 L526.05 384.56 L526.30 382.62 L526.55 382.17 L526.80 380.73 L527.05 378.42 L527.30 375.90 L527.55 372.62 L527.80 368.33 L528.05 361.84 L528.30 354.79 L528.55 346.31 L528.80 337.99 L529.05 330.09 L529.30 322.55 L529.55 320.45 L529.80 319.20 L530.05 320.55 L530.30 326.05 L530.55 330.66 L530.80 339.94 L531.05 345.70 L531.30 354.29 L531.55 360.11 L531.80 366.58 L532.05 372.74 L532.30 374.92 L532.55 379.51 L532.80 381.60 L533.05 382.06 L533.30 383.55 L533.55 384.61 L533.80 385.99 L534.05 387.33 L534.30 388.52 L534.55 388.80 L534.80 388.52 L535.05 388.64 L535.30 389.94 L535.55 389.98 L535.80 391.46 L536.05 390.04 L536.30 390.24 L536.55 391.39 L536.80 390.37 L537.05 390.05 L537.30 391.26 L537.55 390.09 L537.80 391.97 L538.05 390.86 L538.30 391.87 L538.55 391.25 L538.80 389.89 L539.05 390.51 L539.30 389.87 L539.55 389.63 L539.80 388.40 L540.05 388.09 L540.30 385.62 L540.55 383.83 L540.80 383.31 L541.05 380.14 L541.30 378.13 L541.55 375.32 L541.80 374.70 L542.05 375.48 L542.30 376.77 L542.55 378.89 L542.80 381.72 L543.05 380.45 L543.30 380.78 L543.55 380.72 L543.80 379.57 L544.05 378.20 L544.30 375.58 L544.55 372.40 L544.80 370.63 L545.05 364.39 L545.30 357.00 L545.55 349.05 L545.80 338.33 L546.05 323.99 L546.30 309.14 L546.55 290.55 L546.80 272.49 L547.05 256.72 L547.30 246.98 L547.55 241.65 L547.80 243.39 L548.05 252.11 L548.30 266.49 L548.55 284.50 L548.80 304.01 L549.05 317.82 L549.30 332.00 L549.55 345.91 L549.80 355.65 L550.05 364.07 L550.30 368.52 L550.55 372.84 L550.80 375.44 L551.05 378.00 L551.30 380.99 L551.55 383.23 L551.80 384.57 L552.05 386.60 L552.30 386.19 L552.55 388.86 L552.80 388.58 L553.05 389.95 L553.30 390.91 L553.55 389.70 L553.80 390.39 L554.05 390.69 L554.30 391.58 L554.55 392.15 L554.80 392.39 L555.05 391.54 L555.30 392.22 L555.55 391.79 L555.80 393.01 L556.05 391.40 L556.30 392.55 L556.55 391.01 L556.80 391.91 L557.05 390.50 L557.30 391.43 L557.55 389.95 L557.80 390.20 L558.05 389.79 L558.30 388.73 L558.55 388.49 L558.80 387.53 L559.05 385.24 L559.30 383.00 L559.55 380.82 L559.80 378.86 L560.05 375.94 L560.30 374.47 L560.55 374.80 L560.80 373.53 L561.05 375.46 L561.30 375.54 L561.55 378.86 L561.80 378.59 L562.05 379.80 L562.30 381.22 L562.55 381.34 L562.80 380.73 L563.05 379.26 L563.30 378.41 L563.55 377.41 L563.80 373.57 L564.05 372.69 L564.30 369.81 L564.55 367.81 L564.80 366.87 L565.05 368.31 L565.30 370.51 L565.55 372.04 L565.80 374.90 L566.05 377.65 L566.30 379.80 L566.55 381.45 L566.80 384.24 L567.05 386.39 L567.30 386.98 L567.55 387.75 L567.80 388.74 L568.05 389.84 L568.30 390.14 L568.55 390.34 L568.80 389.68 L569.05 390.94 L569.30 390.67 L569.55 391.07 L569.80 390.82 L570.05 390.89 L570.30 391.47 L570.55 391.73 L570.80 391.48 L571.05 391.16 L571.30 391.02 L571.55 390.15 L571.80 391.35 L572.05 391.29 L572.30 390.90 L572.55 390.35 L572.80 390.08 L573.05 389.66 L573.30 388.82 L573.55 388.21 L573.80 387.04 L574.05 386.49 L574.30 387.32 L574.55 388.03 L574.80 388.24 L575.05 387.59 L575.30 388.69 L575.55 389.15 L575.80 389.35 L576.05 388.94 L576.30 392.15 L576.55 391.82 L576.80 391.90 L577.05 391.48 L577.30 390.67 L577.55 391.12 L577.80 391.39 L578.05 390.19 L578.30 390.70 L578.55 391.44 L578.80 391.91 L579.05 391.50 L579.30 390.92 L579.55 390.72 L579.80 392.69 L580.05 391.76 L580.30 392.40 L580.55 391.36 L580.80 390.54 L581.05 392.42 L581.30 391.44 L581.55 391.36 L581.80 389.45 L582.05 389.52 L582.30 389.26 L582.55 387.59 L582.80 386.95 L583.05 385.56 L583.30 385.04 L583.55 385.41 L583.80 384.35 L584.05 383.14 L584.30 384.73 L584.55 385.00 L584.80 385.21 L585.05 383.27 L585.30 385.51 L585.55 386.92 L585.80 385.18 L586.05 385.66 L586.30 385.49 L586.55 384.25 L586.80 385.59 L587.05 385.95 L587.30 385.53 L587.55 385.73 L587.80 385.01 L588.05 385.20 L588.30 385.34 L588.55 385.28 L588.80 385.02 L589.05 384.38 L589.30 383.75 L589.55 381.29 L589.80 378.48 L590.05 374.02 L590.30 369.38 L590.55 363.16 L590.80 356.89 L591.05 353.32 L591.30 351.68 L591.55 349.24 L591.80 347.80 L592.05 348.26 L592.30 348.83 L592.55 347.77 L592.80 346.57 L593.05 342.86 L593.30 336.13 L593.55 325.09 L593.80 310.97 L594.05 294.08 L594.30 274.77 L594.55 254.84 L594.80 235.47 L595.05 221.70 L595.30 211.86 L595.55 209.97 L595.80 213.81 L596.05 225.92 L596.30 242.68 L596.55 262.42 L596.80 282.44 L597.05 303.31 L597.30 319.28 L597.55 335.63 L597.80 347.50 L598.05 354.85 L598.30 361.70 L598.55 366.94 L598.80 370.94 L599.05 375.01 L599.30 377.44 L599.55 379.31 L599.80 381.93 L600.05 382.51 L600.30 384.02 L600.55 385.55 L600.80 386.17 L601.05 387.89 L601.30 388.24 L601.55 390.27 L601.80 390.00 L602.05 391.33 L602.30 389.75 L602.55 391.10 L602.80 391.42 L603.05 390.85 L603.30 390.38 L603.55 390.94 L603.80 390.43 L604.05 390.15 L604.30 389.16 L604.55 389.53 L604.80 389.08 L605.05 388.88 L605.30 388.05 L605.55 387.32 L605.80 385.59 L606.05 385.31 L606.30 384.48 L606.55 383.64 L606.80 381.53 L607.05 379.53 L607.30 376.37 L607.55 372.10 L607.80 368.38 L608.05 362.65 L608.30 355.36 L608.55 350.18 L608.80 343.29 L609.05 338.68 L609.30 337.39 L609.55 337.16 L609.80 336.55 L610.05 340.48 L610.30 344.22 L610.55 349.55 L610.80 356.14 L611.05 362.14 L611.30 365.89 L611.55 369.55 L611.80 371.46 L612.05 372.93 L612.30 375.27 L612.55 374.17 L612.80 374.16 L613.05 371.88 L613.30 369.55 L613.55 366.46 L613.80 359.98 L614.05 355.05 L614.30 350.06 L614.55 345.41 L614.80 339.91 L615.05 336.70 L615.30 335.75 L615.55 339.01 L615.80 341.00 L616.05 346.94 L616.30 352.69 L616.55 357.94 L616.80 363.34 L617.05 367.55 L617.30 373.02 L617.55 377.79 L617.80 380.93 L618.05 381.83 L618.30 385.53 L618.55 385.03 L618.80 386.31 L619.05 389.07 L619.30 389.12 L619.55 389.73 L619.80 390.90 L620.05 390.37 L620.30 391.02 L620.55 390.51 L620.80 391.91 L621.05 392.11 L621.30 393.38 L621.55 392.59 L621.80 392.25 L622.05 391.52 L622.30 391.34 L622.55 392.76 L622.80 392.30 L623.05 391.83 L623.30 393.02 L623.55 392.49 L623.80 392.89 L624.05 392.75 L624.30 391.39 L624.55 393.01 L624.80 393.65 L625.05 393.57 L625.30 392.73 L625.55 393.02 L625.80 392.76 L626.05 393.17 L626.30 393.08 L626.55 391.92 L626.80 392.22 L627.05 392.50 L627.30 392.32 L627.55 392.41 L627.80 392.07 L628.05 390.45 L628.30 391.60 L628.55 390.31 L628.80 389.66 L629.05 389.32 L629.30 388.26 L629.55 388.40 L629.80 385.89 L630.05 385.56 L630.30 383.73 L630.55 381.58 L630.80 379.39 L631.05 378.92 L631.30 377.86 L631.55 376.60 L631.80 376.26 L632.05 377.83 L632.30 379.63 L632.55 380.29 L632.80 383.17 L633.05 385.41 L633.30 386.93 L633.55 387.27 L633.80 388.98 L634.05 390.02 L634.30 391.54 L634.55 391.04 L634.80 391.56 L635.05 392.00 L635.30 392.86 L635.55 391.60 L635.80 392.76 L636.05 393.62 L636.30 391.80 L636.55 392.63 L636.80 391.94 L637.05 392.18 L637.30 392.70 L637.55 392.67 L637.80 392.54 L638.05 393.10 L638.30 393.21 L638.55 393.74 L638.80 393.37 L639.05 394.46 L639.30 392.25 L639.55 393.30 L639.80 392.92 L640.05 393.21 L640.30 394.50 L640.55 393.81 L640.80 393.98 L641.05 392.40 L641.30 394.81 L641.55 394.71 L641.80 392.45 L642.05 392.33 L642.30 392.57" fill="none" stroke="#050505" stroke-width="1.15" stroke-linejoin="round"/>
<text transform="translate(132.60 382.40) rotate(-90)" font-family='"Liberation Sans", sans-serif' font-size="16.20" fill="#2b2b2b">(006)</text>
<text transform="translate(188.70 379.70) rotate(-90)" font-family='"Liberation Sans", sans-serif' font-size="16.20" fill="#2b2b2b">(009)</text>
<text transform="translate(245.80 350.00) rotate(-90)" font-family='"Liberation Sans", sans-serif' font-size="16.20" fill="#2b2b2b">(0012)</text>
<text transform="translate(285.90 141.60) rotate(-90)" font-family='"Liberation Sans", sans-serif' font-size="16.20" fill="#2b2b2b">(101)</text>
<text transform="translate(305.60 121.50) rotate(-90)" font-family='"Liberation Sans", sans-serif' font-size="16.20" fill="#2b2b2b">(0015)</text>
<text transform="translate(317.70 70.00) rotate(-90)" font-family='"Liberation Sans", sans-serif' font-size="16.20" fill="#2b2b2b">(107)</text>
<text transform="translate(349.65 93.10) rotate(-90)" font-family='"Liberation Sans", sans-serif' font-size="16.20" fill="#2b2b2b">(108)</text>
<text transform="translate(406.90 345.90) rotate(-90)" font-family='"Liberation Sans", sans-serif' font-size="16.20" fill="#2b2b2b">(1014)</text>
<text transform="translate(438.00 225.20) rotate(-90)" font-family='"Liberation Sans", sans-serif' font-size="16.20" fill="#2b2b2b">(1016)</text>
<text transform="translate(500.50 162.65) rotate(-90)" font-family='"Liberation Sans", sans-serif' font-size="16.20" fill="#2b2b2b">(110)</text>
<text transform="translate(554.70 240.00) rotate(-90)" font-family='"Liberation Sans", sans-serif' font-size="16.20" fill="#2b2b2b">(1023)</text>
<text transform="translate(601.65 204.90) rotate(-90)" font-family='"Liberation Sans", sans-serif' font-size="16.20" fill="#2b2b2b">(1115)</text>
</g>
<g id="panel-b">
<rect x="714.90" y="26.50" width="583.10" height="381.80" fill="none" stroke="#111" stroke-width="1.20"/>
<path d="M723.87 408.30 v3.80 M741.81 408.30 v3.80 M759.75 408.30 v7.20 M777.70 408.30 v3.80 M795.64 408.30 v3.80 M813.58 408.30 v3.80 M831.52 408.30 v3.80 M849.46 408.30 v7.20 M867.40 408.30 v3.80 M885.34 408.30 v3.80 M903.29 408.30 v3.80 M921.23 408.30 v3.80 M939.17 408.30 v7.20 M957.11 408.30 v3.80 M975.05 408.30 v3.80 M992.99 408.30 v3.80 M1010.94 408.30 v3.80 M1028.88 408.30 v7.20 M1046.82 408.30 v3.80 M1064.76 408.30 v3.80 M1082.70 408.30 v3.80 M1100.64 408.30 v3.80 M1118.58 408.30 v7.20 M1136.53 408.30 v3.80 M1154.47 408.30 v3.80 M1172.41 408.30 v3.80 M1190.35 408.30 v3.80 M1208.29 408.30 v7.20 M1226.23 408.30 v3.80 M1244.18 408.30 v3.80 M1262.12 408.30 v3.80 M1280.06 408.30 v3.80 M1298.00 408.30 v7.20 M714.90 55.30 h-7.00 M714.90 91.40 h-3.70 M714.90 127.35 h-7.00 M714.90 163.45 h-3.70 M714.90 199.40 h-7.00 M714.90 235.50 h-3.70 M714.90 271.45 h-7.00 M714.90 307.55 h-3.70 M714.90 343.50 h-7.00 M714.90 379.60 h-3.70" fill="none" stroke="#111" stroke-width="1.20"/>
<text transform="translate(759.65 435.90) scale(0.955 1)" font-family='"Liberation Sans", sans-serif' font-size="21.2" text-anchor="middle" fill="#1c1c1c" letter-spacing="0.3">10</text>
<text transform="translate(849.36 435.90) scale(0.955 1)" font-family='"Liberation Sans", sans-serif' font-size="21.2" text-anchor="middle" fill="#1c1c1c" letter-spacing="0.3">20</text>
<text transform="translate(939.07 435.90) scale(0.955 1)" font-family='"Liberation Sans", sans-serif' font-size="21.2" text-anchor="middle" fill="#1c1c1c" letter-spacing="0.3">30</text>
<text transform="translate(1028.78 435.90) scale(0.955 1)" font-family='"Liberation Sans", sans-serif' font-size="21.2" text-anchor="middle" fill="#1c1c1c" letter-spacing="0.3">40</text>
<text transform="translate(1118.48 435.90) scale(0.955 1)" font-family='"Liberation Sans", sans-serif' font-size="21.2" text-anchor="middle" fill="#1c1c1c" letter-spacing="0.3">50</text>
<text transform="translate(1208.19 435.90) scale(0.955 1)" font-family='"Liberation Sans", sans-serif' font-size="21.2" text-anchor="middle" fill="#1c1c1c" letter-spacing="0.3">60</text>
<text transform="translate(1297.90 435.90) scale(0.955 1)" font-family='"Liberation Sans", sans-serif' font-size="21.2" text-anchor="middle" fill="#1c1c1c" letter-spacing="0.3">70</text>
<text y="467.10" font-size="33" fill="#111" font-family='"Liberation Sans", sans-serif' xml:space="preserve"><tspan x="944.40">2</tspan><tspan x="963.20" font-size="30" textLength="15.9" lengthAdjust="spacingAndGlyphs" font-family='"Liberation Serif", serif'>θ</tspan><tspan x="978.77" letter-spacing="0.45"> (°)</tspan></text>
<text transform="translate(698.90 366.50) rotate(-90)" font-family='"Liberation Sans", sans-serif' font-size="26.50" fill="#111">XRD Intensity (arb. units)</text>
<text x="730.40" y="79.40" font-family='"Liberation Sans", sans-serif' font-size="45.00" font-weight="bold" text-anchor="start" fill="#000" >(b)</text>
<path d="M1137.80 60.10 H1226.20" stroke="#222" stroke-width="1.3" fill="none"/>
<text x="1236.60" y="74.20" font-family='"Liberation Sans", sans-serif' font-size="39.60" font-weight="bold" text-anchor="start" fill="#000" letter-spacing="-1.30">K7</text>
<path d="M714.90 372.09 L715.15 371.58 L715.40 373.22 L715.65 371.43 L715.90 372.63 L716.15 374.08 L716.40 373.36 L716.65 373.95 L716.90 374.10 L717.15 373.84 L717.40 373.19 L717.65 373.72 L717.90 373.83 L718.15 374.56 L718.40 373.95 L718.65 375.39 L718.90 377.19 L719.15 378.24 L719.40 375.21 L719.65 376.08 L719.90 374.94 L720.15 375.12 L720.40 375.98 L720.65 377.15 L720.90 378.39 L721.15 378.46 L721.40 377.86 L721.65 377.43 L721.90 377.71 L722.15 378.16 L722.40 379.38 L722.65 378.73 L722.90 379.59 L723.15 379.55 L723.40 379.68 L723.65 379.88 L723.90 380.01 L724.15 381.03 L724.40 380.21 L724.65 381.29 L724.90 380.60 L725.15 380.92 L725.40 381.66 L725.65 382.14 L725.90 382.02 L726.15 382.58 L726.40 382.74 L726.65 382.81 L726.90 382.63 L727.15 382.94 L727.40 384.01 L727.65 383.15 L727.90 381.82 L728.15 382.26 L728.40 382.49 L728.65 384.27 L728.90 383.99 L729.15 385.49 L729.40 384.25 L729.65 383.54 L729.90 383.72 L730.15 385.44 L730.40 385.18 L730.65 385.32 L730.90 386.35 L731.15 385.41 L731.40 386.32 L731.65 385.87 L731.90 383.73 L732.15 386.54 L732.40 385.33 L732.65 387.58 L732.90 388.46 L733.15 386.83 L733.40 386.35 L733.65 385.51 L733.90 386.53 L734.15 386.25 L734.40 385.99 L734.65 386.91 L734.90 388.76 L735.15 387.82 L735.40 387.90 L735.65 388.32 L735.90 388.58 L736.15 388.56 L736.40 387.93 L736.65 387.97 L736.90 387.86 L737.15 387.94 L737.40 388.96 L737.65 387.76 L737.90 387.80 L738.15 387.62 L738.40 387.85 L738.65 389.64 L738.90 389.37 L739.15 389.54 L739.40 390.57 L739.65 390.56 L739.90 390.88 L740.15 390.41 L740.40 389.00 L740.65 390.39 L740.90 389.91 L741.15 390.34 L741.40 389.12 L741.65 390.88 L741.90 388.81 L742.15 390.11 L742.40 390.18 L742.65 389.71 L742.90 391.37 L743.15 391.02 L743.40 389.72 L743.65 391.11 L743.90 391.72 L744.15 392.82 L744.40 390.81 L744.65 391.50 L744.90 392.26 L745.15 391.75 L745.40 391.33 L745.65 390.82 L745.90 390.92 L746.15 391.62 L746.40 391.96 L746.65 391.06 L746.90 391.24 L747.15 392.33 L747.40 392.10 L747.65 391.74 L747.90 392.19 L748.15 392.17 L748.40 392.77 L748.65 393.07 L748.90 393.30 L749.15 392.45 L749.40 392.62 L749.65 393.26 L749.90 393.84 L750.15 394.07 L750.40 394.32 L750.65 393.42 L750.90 392.16 L751.15 393.64 L751.40 393.43 L751.65 393.61 L751.90 393.85 L752.15 393.23 L752.40 394.43 L752.65 393.90 L752.90 393.00 L753.15 394.15 L753.40 394.21 L753.65 393.99 L753.90 394.66 L754.15 393.35 L754.40 392.65 L754.65 393.90 L754.90 393.44 L755.15 394.36 L755.40 394.53 L755.65 394.60 L755.90 394.74 L756.15 395.56 L756.40 394.93 L756.65 395.62 L756.90 394.66 L757.15 393.86 L757.40 394.81 L757.65 394.43 L757.90 395.95 L758.15 395.81 L758.40 395.24 L758.65 394.69 L758.90 394.77 L759.15 393.29 L759.40 395.76 L759.65 394.50 L759.90 395.30 L760.15 394.31 L760.40 394.91 L760.65 394.99 L760.90 394.48 L761.15 395.06 L761.40 395.66 L761.65 395.16 L761.90 394.60 L762.15 394.99 L762.40 395.17 L762.65 395.80 L762.90 396.07 L763.15 395.81 L763.40 395.02 L763.65 396.44 L763.90 396.10 L764.15 396.12 L764.40 396.86 L764.65 396.30 L764.90 395.87 L765.15 394.57 L765.40 394.48 L765.65 393.79 L765.90 394.52 L766.15 394.34 L766.40 394.77 L766.65 394.11 L766.90 393.74 L767.15 394.69 L767.40 392.76 L767.65 392.29 L767.90 392.96 L768.15 394.02 L768.40 393.86 L768.65 394.53 L768.90 394.64 L769.15 396.11 L769.40 395.05 L769.65 394.80 L769.90 395.27 L770.15 395.61 L770.40 396.03 L770.65 397.39 L770.90 396.56 L771.15 396.16 L771.40 395.74 L771.65 395.46 L771.90 395.91 L772.15 396.34 L772.40 396.48 L772.65 396.56 L772.90 397.25 L773.15 397.41 L773.40 396.84 L773.65 396.53 L773.90 395.36 L774.15 397.36 L774.40 395.68 L774.65 395.97 L774.90 396.51 L775.15 396.46 L775.40 396.63 L775.65 395.91 L775.90 396.16 L776.15 396.55 L776.40 396.00 L776.65 397.31 L776.90 397.23 L777.15 397.18 L777.40 397.17 L777.65 397.57 L777.90 397.26 L778.15 397.14 L778.40 397.04 L778.65 396.36 L778.90 396.22 L779.15 397.59 L779.40 396.29 L779.65 397.15 L779.90 397.31 L780.15 396.82 L780.40 397.73 L780.65 396.78 L780.90 397.00 L781.15 397.94 L781.40 397.49 L781.65 397.85 L781.90 397.06 L782.15 396.81 L782.40 397.38 L782.65 397.59 L782.90 396.78 L783.15 397.36 L783.40 398.05 L783.65 396.06 L783.90 396.97 L784.15 396.47 L784.40 397.85 L784.65 397.42 L784.90 397.67 L785.15 396.47 L785.40 397.48 L785.65 397.73 L785.90 396.86 L786.15 398.06 L786.40 396.75 L786.65 397.16 L786.90 395.63 L787.15 398.32 L787.40 397.13 L787.65 397.60 L787.90 397.25 L788.15 397.29 L788.40 398.69 L788.65 397.41 L788.90 398.02 L789.15 397.33 L789.40 398.07 L789.65 397.83 L789.90 398.39 L790.15 399.28 L790.40 398.07 L790.65 397.92 L790.90 397.78 L791.15 399.02 L791.40 399.28 L791.65 398.03 L791.90 398.11 L792.15 400.11 L792.40 399.08 L792.65 398.73 L792.90 398.62 L793.15 398.67 L793.40 398.17 L793.65 397.42 L793.90 398.95 L794.15 397.99 L794.40 397.83 L794.65 398.23 L794.90 398.28 L795.15 398.39 L795.40 398.44 L795.65 398.58 L795.90 396.67 L796.15 398.00 L796.40 398.68 L796.65 398.78 L796.90 397.68 L797.15 397.78 L797.40 399.23 L797.65 398.52 L797.90 398.88 L798.15 400.35 L798.40 399.00 L798.65 398.91 L798.90 398.64 L799.15 398.26 L799.40 396.72 L799.65 396.44 L799.90 396.87 L800.15 394.77 L800.40 395.68 L800.65 394.41 L800.90 394.78 L801.15 395.58 L801.40 395.41 L801.65 398.30 L801.90 397.97 L802.15 399.01 L802.40 397.56 L802.65 398.44 L802.90 399.70 L803.15 398.52 L803.40 398.39 L803.65 398.81 L803.90 398.58 L804.15 398.59 L804.40 398.37 L804.65 398.60 L804.90 399.08 L805.15 398.39 L805.40 398.73 L805.65 399.50 L805.90 399.38 L806.15 400.94 L806.40 399.00 L806.65 398.68 L806.90 397.85 L807.15 398.75 L807.40 398.17 L807.65 397.78 L807.90 399.95 L808.15 398.16 L808.40 399.69 L808.65 398.82 L808.90 398.17 L809.15 399.67 L809.40 398.77 L809.65 398.52 L809.90 398.59 L810.15 399.19 L810.40 398.56 L810.65 398.21 L810.90 399.01 L811.15 398.38 L811.40 398.35 L811.65 398.22 L811.90 397.75 L812.15 397.79 L812.40 399.20 L812.65 397.68 L812.90 398.93 L813.15 398.96 L813.40 398.09 L813.65 398.24 L813.90 400.10 L814.15 398.47 L814.40 399.07 L814.65 399.63 L814.90 398.22 L815.15 399.17 L815.40 399.43 L815.65 399.09 L815.90 399.59 L816.15 399.33 L816.40 398.85 L816.65 398.13 L816.90 399.12 L817.15 398.25 L817.40 398.40 L817.65 398.05 L817.90 398.21 L818.15 398.75 L818.40 399.68 L818.65 399.06 L818.90 399.63 L819.15 398.81 L819.40 398.60 L819.65 398.03 L819.90 400.14 L820.15 398.62 L820.40 399.91 L820.65 400.19 L820.90 398.93 L821.15 398.73 L821.40 399.09 L821.65 399.65 L821.90 399.93 L822.15 399.30 L822.40 398.52 L822.65 398.77 L822.90 399.20 L823.15 398.74 L823.40 398.74 L823.65 400.32 L823.90 398.35 L824.15 399.54 L824.40 398.97 L824.65 398.94 L824.90 399.45 L825.15 398.61 L825.40 398.88 L825.65 399.44 L825.90 399.28 L826.15 398.85 L826.40 398.21 L826.65 399.15 L826.90 398.83 L827.15 399.27 L827.40 399.90 L827.65 398.15 L827.90 399.94 L828.15 398.88 L828.40 398.70 L828.65 398.27 L828.90 398.88 L829.15 398.67 L829.40 398.26 L829.65 398.69 L829.90 399.13 L830.15 398.78 L830.40 399.54 L830.65 398.93 L830.90 399.49 L831.15 398.98 L831.40 398.87 L831.65 397.09 L831.90 398.13 L832.15 397.40 L832.40 397.03 L832.65 394.92 L832.90 395.48 L833.15 393.60 L833.40 394.56 L833.65 394.23 L833.90 393.84 L834.15 395.40 L834.40 394.03 L834.65 395.39 L834.90 396.11 L835.15 396.80 L835.40 397.79 L835.65 398.42 L835.90 398.12 L836.15 398.35 L836.40 397.63 L836.65 397.95 L836.90 399.23 L837.15 398.32 L837.40 399.07 L837.65 397.88 L837.90 398.48 L838.15 398.10 L838.40 399.62 L838.65 398.22 L838.90 399.21 L839.15 399.30 L839.40 399.49 L839.65 399.58 L839.90 400.24 L840.15 400.44 L840.40 400.45 L840.65 399.53 L840.90 398.98 L841.15 398.05 L841.40 399.42 L841.65 400.13 L841.90 398.84 L842.15 398.61 L842.40 398.82 L842.65 399.33 L842.90 399.72 L843.15 398.17 L843.40 399.57 L843.65 399.27 L843.90 399.23 L844.15 397.73 L844.40 399.38 L844.65 398.68 L844.90 399.28 L845.15 399.10 L845.40 398.66 L845.65 398.98 L845.90 398.16 L846.15 398.21 L846.40 399.10 L846.65 399.31 L846.90 399.55 L847.15 400.26 L847.40 399.45 L847.65 399.53 L847.90 399.86 L848.15 399.89 L848.40 399.49 L848.65 399.53 L848.90 398.64 L849.15 398.53 L849.40 400.20 L849.65 400.40 L849.90 399.34 L850.15 399.33 L850.40 398.76 L850.65 398.10 L850.90 399.61 L851.15 399.47 L851.40 399.45 L851.65 400.32 L851.90 400.34 L852.15 399.35 L852.40 399.06 L852.65 398.59 L852.90 399.44 L853.15 398.92 L853.40 399.47 L853.65 399.17 L853.90 399.06 L854.15 399.50 L854.40 398.71 L854.65 400.18 L854.90 398.67 L855.15 399.59 L855.40 398.62 L855.65 399.14 L855.90 399.76 L856.15 398.81 L856.40 398.64 L856.65 400.24 L856.90 398.98 L857.15 399.54 L857.40 399.29 L857.65 399.12 L857.90 400.05 L858.15 399.55 L858.40 399.41 L858.65 398.19 L858.90 400.01 L859.15 400.34 L859.40 399.96 L859.65 399.25 L859.90 399.76 L860.15 399.44 L860.40 399.69 L860.65 400.16 L860.90 400.31 L861.15 398.49 L861.40 399.68 L861.65 399.30 L861.90 398.29 L862.15 399.53 L862.40 397.88 L862.65 398.32 L862.90 397.03 L863.15 398.19 L863.40 398.82 L863.65 398.90 L863.90 398.45 L864.15 397.65 L864.40 397.04 L864.65 398.07 L864.90 395.96 L865.15 395.61 L865.40 395.82 L865.65 392.79 L865.90 392.03 L866.15 392.47 L866.40 392.83 L866.65 392.56 L866.90 393.78 L867.15 394.16 L867.40 394.11 L867.65 395.88 L867.90 396.24 L868.15 398.06 L868.40 397.99 L868.65 398.85 L868.90 397.96 L869.15 397.22 L869.40 398.17 L869.65 398.65 L869.90 398.36 L870.15 398.64 L870.40 400.17 L870.65 400.50 L870.90 399.22 L871.15 399.37 L871.40 399.12 L871.65 400.14 L871.90 400.45 L872.15 399.27 L872.40 399.57 L872.65 399.29 L872.90 399.93 L873.15 400.01 L873.40 400.36 L873.65 399.90 L873.90 399.18 L874.15 400.24 L874.40 400.24 L874.65 399.78 L874.90 400.15 L875.15 400.11 L875.40 400.30 L875.65 399.81 L875.90 399.76 L876.15 399.40 L876.40 398.71 L876.65 399.47 L876.90 399.61 L877.15 400.42 L877.40 398.87 L877.65 399.02 L877.90 399.73 L878.15 398.00 L878.40 399.32 L878.65 399.03 L878.90 398.67 L879.15 399.28 L879.40 398.33 L879.65 399.81 L879.90 400.23 L880.15 400.85 L880.40 400.84 L880.65 400.46 L880.90 400.75 L881.15 398.79 L881.40 399.89 L881.65 400.13 L881.90 399.18 L882.15 398.40 L882.40 398.32 L882.65 397.89 L882.90 398.88 L883.15 399.73 L883.40 400.16 L883.65 400.08 L883.90 398.78 L884.15 399.89 L884.40 398.30 L884.65 397.31 L884.90 399.92 L885.15 399.82 L885.40 399.31 L885.65 399.62 L885.90 399.35 L886.15 398.66 L886.40 399.13 L886.65 398.51 L886.90 399.00 L887.15 398.54 L887.40 399.06 L887.65 399.49 L887.90 398.53 L888.15 399.38 L888.40 397.66 L888.65 397.86 L888.90 398.37 L889.15 398.62 L889.40 398.63 L889.65 398.94 L889.90 397.78 L890.15 398.48 L890.40 397.39 L890.65 399.10 L890.90 398.95 L891.15 398.60 L891.40 398.48 L891.65 398.89 L891.90 399.24 L892.15 398.85 L892.40 398.39 L892.65 398.56 L892.90 398.15 L893.15 398.92 L893.40 399.13 L893.65 399.01 L893.90 398.51 L894.15 398.61 L894.40 398.84 L894.65 398.66 L894.90 398.94 L895.15 398.49 L895.40 399.68 L895.65 398.51 L895.90 398.13 L896.15 397.94 L896.40 397.88 L896.65 397.14 L896.90 397.30 L897.15 396.90 L897.40 395.41 L897.65 394.11 L897.90 392.26 L898.15 391.71 L898.40 391.00 L898.65 389.62 L898.90 390.24 L899.15 389.63 L899.40 389.40 L899.65 391.06 L899.90 392.53 L900.15 393.54 L900.40 394.61 L900.65 395.91 L900.90 395.81 L901.15 397.07 L901.40 397.59 L901.65 396.91 L901.90 398.01 L902.15 398.34 L902.40 397.28 L902.65 396.24 L902.90 398.17 L903.15 398.53 L903.40 397.72 L903.65 399.48 L903.90 400.05 L904.15 398.71 L904.40 398.97 L904.65 399.45 L904.90 398.42 L905.15 398.75 L905.40 399.29 L905.65 398.55 L905.90 398.06 L906.15 399.39 L906.40 398.25 L906.65 398.88 L906.90 399.07 L907.15 398.97 L907.40 399.12 L907.65 398.62 L907.90 399.62 L908.15 400.23 L908.40 398.40 L908.65 398.03 L908.90 399.13 L909.15 398.76 L909.40 399.42 L909.65 399.07 L909.90 399.16 L910.15 398.85 L910.40 398.33 L910.65 398.72 L910.90 397.23 L911.15 397.62 L911.40 397.98 L911.65 397.85 L911.90 397.99 L912.15 398.55 L912.40 398.38 L912.65 399.09 L912.90 398.76 L913.15 399.95 L913.40 398.62 L913.65 398.47 L913.90 399.78 L914.15 398.53 L914.40 399.53 L914.65 396.88 L914.90 397.66 L915.15 398.81 L915.40 399.06 L915.65 398.00 L915.90 397.57 L916.15 397.66 L916.40 398.73 L916.65 398.95 L916.90 399.62 L917.15 398.28 L917.40 398.46 L917.65 398.07 L917.90 398.63 L918.15 397.69 L918.40 397.69 L918.65 397.00 L918.90 397.30 L919.15 396.99 L919.40 398.32 L919.65 399.06 L919.90 397.73 L920.15 396.53 L920.40 398.60 L920.65 398.72 L920.90 398.74 L921.15 399.91 L921.40 399.37 L921.65 399.33 L921.90 397.59 L922.15 397.38 L922.40 396.08 L922.65 396.99 L922.90 395.11 L923.15 396.29 L923.40 395.21 L923.65 394.66 L923.90 393.99 L924.15 395.01 L924.40 393.42 L924.65 394.20 L924.90 394.30 L925.15 396.47 L925.40 395.73 L925.65 395.56 L925.90 396.20 L926.15 397.11 L926.40 396.25 L926.65 395.25 L926.90 395.23 L927.15 396.14 L927.40 396.52 L927.65 395.70 L927.90 396.08 L928.15 395.42 L928.40 395.62 L928.65 396.47 L928.90 395.77 L929.15 395.45 L929.40 393.56 L929.65 394.60 L929.90 393.70 L930.15 393.92 L930.40 392.51 L930.65 389.97 L930.90 388.77 L931.15 386.20 L931.40 383.89 L931.65 381.09 L931.90 380.14 L932.15 379.93 L932.40 378.23 L932.65 379.31 L932.90 379.08 L933.15 381.03 L933.40 383.27 L933.65 385.93 L933.90 388.70 L934.15 390.13 L934.40 388.98 L934.65 391.67 L934.90 392.26 L935.15 393.75 L935.40 392.75 L935.65 393.38 L935.90 393.61 L936.15 393.27 L936.40 393.35 L936.65 391.88 L936.90 391.87 L937.15 392.48 L937.40 391.54 L937.65 393.06 L937.90 393.48 L938.15 393.54 L938.40 392.28 L938.65 392.89 L938.90 393.40 L939.15 393.70 L939.40 393.79 L939.65 393.17 L939.90 392.32 L940.15 392.24 L940.40 392.81 L940.65 392.80 L940.90 392.81 L941.15 392.71 L941.40 393.83 L941.65 394.20 L941.90 395.41 L942.15 395.64 L942.40 396.03 L942.65 395.24 L942.90 395.36 L943.15 395.02 L943.40 395.75 L943.65 396.22 L943.90 396.09 L944.15 395.65 L944.40 395.50 L944.65 395.86 L944.90 395.81 L945.15 395.29 L945.40 396.08 L945.65 395.49 L945.90 394.81 L946.15 395.61 L946.40 395.05 L946.65 395.38 L946.90 394.98 L947.15 394.70 L947.40 394.37 L947.65 394.07 L947.90 393.75 L948.15 393.20 L948.40 392.46 L948.65 391.48 L948.90 386.98 L949.15 383.47 L949.40 377.61 L949.65 368.96 L949.90 358.67 L950.15 341.21 L950.40 316.46 L950.65 271.76 L950.90 207.92 L951.15 132.25 L951.40 72.32 L951.65 55.50 L951.90 92.55 L952.15 161.41 L952.40 235.99 L952.65 292.28 L952.90 327.32 L953.15 347.31 L953.40 356.26 L953.65 358.95 L953.90 357.19 L954.15 354.68 L954.40 357.03 L954.65 361.91 L954.90 371.52 L955.15 379.94 L955.40 386.01 L955.65 389.91 L955.90 391.87 L956.15 393.29 L956.40 391.72 L956.65 392.60 L956.90 393.77 L957.15 391.34 L957.40 390.95 L957.65 390.81 L957.90 390.81 L958.15 390.35 L958.40 389.98 L958.65 388.61 L958.90 388.77 L959.15 387.02 L959.40 385.75 L959.65 383.87 L959.90 382.82 L960.15 381.26 L960.40 382.39 L960.65 380.26 L960.90 379.92 L961.15 378.74 L961.40 376.96 L961.65 377.52 L961.90 377.73 L962.15 376.55 L962.40 374.78 L962.65 372.38 L962.90 369.26 L963.15 365.64 L963.40 360.87 L963.65 352.34 L963.90 339.90 L964.15 323.16 L964.40 304.33 L964.65 282.95 L964.90 262.63 L965.15 246.16 L965.40 237.42 L965.65 237.83 L965.90 248.10 L966.15 267.03 L966.40 288.46 L966.65 308.35 L966.90 329.43 L967.15 343.81 L967.40 355.42 L967.65 361.75 L967.90 367.75 L968.15 373.32 L968.40 376.46 L968.65 378.05 L968.90 382.00 L969.15 382.92 L969.40 383.91 L969.65 384.73 L969.90 383.80 L970.15 384.87 L970.40 384.35 L970.65 386.23 L970.90 385.55 L971.15 383.40 L971.40 379.36 L971.65 377.00 L971.90 374.51 L972.15 370.39 L972.40 370.30 L972.65 370.86 L972.90 370.66 L973.15 373.32 L973.40 377.36 L973.65 379.25 L973.90 382.80 L974.15 384.53 L974.40 385.08 L974.65 386.82 L974.90 387.05 L975.15 387.86 L975.40 388.72 L975.65 389.90 L975.90 389.51 L976.15 390.57 L976.40 388.81 L976.65 389.68 L976.90 390.07 L977.15 388.80 L977.40 389.61 L977.65 390.26 L977.90 390.65 L978.15 391.17 L978.40 390.94 L978.65 390.73 L978.90 389.80 L979.15 390.38 L979.40 390.34 L979.65 389.19 L979.90 387.62 L980.15 387.08 L980.40 386.70 L980.65 386.26 L980.90 384.16 L981.15 383.36 L981.40 381.70 L981.65 378.95 L981.90 376.93 L982.15 374.30 L982.40 371.44 L982.65 368.03 L982.90 362.78 L983.15 357.58 L983.40 352.25 L983.65 342.41 L983.90 329.26 L984.15 317.50 L984.40 298.00 L984.65 277.07 L984.90 252.82 L985.15 226.98 L985.40 201.66 L985.65 179.24 L985.90 162.12 L986.15 151.34 L986.40 148.59 L986.65 155.81 L986.90 168.41 L987.15 187.11 L987.40 209.06 L987.65 229.63 L987.90 249.56 L988.15 266.33 L988.40 278.95 L988.65 287.32 L988.90 289.31 L989.15 285.94 L989.40 277.11 L989.65 263.35 L989.90 244.31 L990.15 219.24 L990.40 193.51 L990.65 166.38 L990.90 142.59 L991.15 125.54 L991.40 117.71 L991.65 120.25 L991.90 134.40 L992.15 155.04 L992.40 183.10 L992.65 214.31 L992.90 243.74 L993.15 271.11 L993.40 294.04 L993.65 314.28 L993.90 329.56 L994.15 340.08 L994.40 350.11 L994.65 355.08 L994.90 359.64 L995.15 364.10 L995.40 369.90 L995.65 371.49 L995.90 375.50 L996.15 377.55 L996.40 379.01 L996.65 378.31 L996.90 379.17 L997.15 377.48 L997.40 376.87 L997.65 373.66 L997.90 372.06 L998.15 368.74 L998.40 366.75 L998.65 365.76 L998.90 362.22 L999.15 361.45 L999.40 362.09 L999.65 364.07 L999.90 364.97 L1000.15 370.46 L1000.40 371.91 L1000.65 374.74 L1000.90 379.38 L1001.15 381.17 L1001.40 384.18 L1001.65 386.78 L1001.90 387.40 L1002.15 387.52 L1002.40 389.28 L1002.65 391.03 L1002.90 390.96 L1003.15 392.31 L1003.40 392.52 L1003.65 391.03 L1003.90 392.32 L1004.15 391.89 L1004.40 393.25 L1004.65 393.87 L1004.90 393.48 L1005.15 392.90 L1005.40 393.59 L1005.65 393.77 L1005.90 393.65 L1006.15 392.67 L1006.40 393.23 L1006.65 392.52 L1006.90 391.88 L1007.15 392.70 L1007.40 393.00 L1007.65 390.60 L1007.90 390.18 L1008.15 388.55 L1008.40 390.16 L1008.65 388.29 L1008.90 389.22 L1009.15 389.05 L1009.40 389.31 L1009.65 389.94 L1009.90 391.85 L1010.15 392.50 L1010.40 393.10 L1010.65 393.27 L1010.90 394.93 L1011.15 395.09 L1011.40 394.61 L1011.65 395.16 L1011.90 394.18 L1012.15 395.68 L1012.40 395.30 L1012.65 395.48 L1012.90 395.31 L1013.15 395.81 L1013.40 395.94 L1013.65 395.23 L1013.90 396.45 L1014.15 396.65 L1014.40 397.19 L1014.65 396.71 L1014.90 395.88 L1015.15 396.57 L1015.40 396.36 L1015.65 396.25 L1015.90 396.15 L1016.15 397.58 L1016.40 397.46 L1016.65 396.74 L1016.90 397.09 L1017.15 396.65 L1017.40 396.76 L1017.65 396.72 L1017.90 397.73 L1018.15 397.26 L1018.40 396.62 L1018.65 396.45 L1018.90 396.36 L1019.15 397.18 L1019.40 396.32 L1019.65 397.56 L1019.90 395.84 L1020.15 396.50 L1020.40 396.78 L1020.65 397.06 L1020.90 398.26 L1021.15 397.78 L1021.40 399.26 L1021.65 399.10 L1021.90 398.63 L1022.15 398.22 L1022.40 397.40 L1022.65 396.14 L1022.90 396.01 L1023.15 397.35 L1023.40 395.68 L1023.65 398.27 L1023.90 397.48 L1024.15 396.47 L1024.40 396.76 L1024.65 396.35 L1024.90 397.95 L1025.15 398.11 L1025.40 398.33 L1025.65 396.88 L1025.90 397.67 L1026.15 397.61 L1026.40 397.83 L1026.65 397.45 L1026.90 397.28 L1027.15 397.66 L1027.40 396.84 L1027.65 396.19 L1027.90 394.97 L1028.15 394.44 L1028.40 394.36 L1028.65 393.30 L1028.90 392.34 L1029.15 394.07 L1029.40 394.55 L1029.65 393.81 L1029.90 393.07 L1030.15 394.09 L1030.40 393.90 L1030.65 394.41 L1030.90 396.53 L1031.15 396.72 L1031.40 397.99 L1031.65 399.50 L1031.90 398.11 L1032.15 397.75 L1032.40 398.01 L1032.65 398.40 L1032.90 398.77 L1033.15 398.25 L1033.40 398.38 L1033.65 397.14 L1033.90 397.63 L1034.15 397.99 L1034.40 398.79 L1034.65 397.59 L1034.90 398.92 L1035.15 397.54 L1035.40 398.26 L1035.65 398.40 L1035.90 399.24 L1036.15 398.07 L1036.40 398.14 L1036.65 398.62 L1036.90 398.97 L1037.15 398.77 L1037.40 397.49 L1037.65 397.25 L1037.90 397.12 L1038.15 398.63 L1038.40 397.91 L1038.65 398.20 L1038.90 396.72 L1039.15 398.06 L1039.40 398.20 L1039.65 398.76 L1039.90 397.52 L1040.15 399.23 L1040.40 398.70 L1040.65 398.97 L1040.90 397.76 L1041.15 399.83 L1041.40 398.97 L1041.65 398.92 L1041.90 398.83 L1042.15 398.32 L1042.40 398.05 L1042.65 398.13 L1042.90 398.69 L1043.15 398.86 L1043.40 398.89 L1043.65 399.29 L1043.90 399.36 L1044.15 397.74 L1044.40 397.57 L1044.65 398.09 L1044.90 398.31 L1045.15 398.14 L1045.40 399.09 L1045.65 399.77 L1045.90 399.31 L1046.15 399.21 L1046.40 400.28 L1046.65 398.57 L1046.90 399.80 L1047.15 399.63 L1047.40 398.25 L1047.65 397.89 L1047.90 397.51 L1048.15 397.53 L1048.40 397.02 L1048.65 396.74 L1048.90 396.09 L1049.15 394.38 L1049.40 393.70 L1049.65 392.97 L1049.90 390.79 L1050.15 391.00 L1050.40 390.25 L1050.65 390.52 L1050.90 390.94 L1051.15 392.94 L1051.40 392.65 L1051.65 393.93 L1051.90 395.52 L1052.15 396.14 L1052.40 395.90 L1052.65 397.65 L1052.90 398.09 L1053.15 397.43 L1053.40 396.84 L1053.65 397.88 L1053.90 398.30 L1054.15 399.86 L1054.40 398.46 L1054.65 398.79 L1054.90 398.44 L1055.15 397.77 L1055.40 397.82 L1055.65 398.70 L1055.90 398.38 L1056.15 397.15 L1056.40 398.76 L1056.65 397.05 L1056.90 397.86 L1057.15 398.98 L1057.40 397.41 L1057.65 398.84 L1057.90 399.60 L1058.15 397.81 L1058.40 396.82 L1058.65 398.63 L1058.90 397.36 L1059.15 397.09 L1059.40 397.39 L1059.65 397.87 L1059.90 397.61 L1060.15 398.77 L1060.40 396.86 L1060.65 396.52 L1060.90 396.69 L1061.15 397.77 L1061.40 399.33 L1061.65 397.26 L1061.90 398.05 L1062.15 398.68 L1062.40 397.84 L1062.65 398.01 L1062.90 397.60 L1063.15 397.78 L1063.40 397.46 L1063.65 398.54 L1063.90 396.41 L1064.15 398.15 L1064.40 397.84 L1064.65 397.41 L1064.90 397.02 L1065.15 396.82 L1065.40 394.73 L1065.65 394.32 L1065.90 393.65 L1066.15 394.23 L1066.40 393.46 L1066.65 393.35 L1066.90 394.18 L1067.15 393.78 L1067.40 394.38 L1067.65 395.66 L1067.90 394.22 L1068.15 396.10 L1068.40 396.80 L1068.65 397.33 L1068.90 395.85 L1069.15 395.95 L1069.40 396.32 L1069.65 396.26 L1069.90 396.53 L1070.15 396.55 L1070.40 396.45 L1070.65 396.86 L1070.90 397.45 L1071.15 396.98 L1071.40 397.05 L1071.65 396.80 L1071.90 395.63 L1072.15 394.67 L1072.40 395.61 L1072.65 392.72 L1072.90 393.23 L1073.15 391.78 L1073.40 387.42 L1073.65 386.58 L1073.90 382.70 L1074.15 381.76 L1074.40 380.79 L1074.65 379.28 L1074.90 379.68 L1075.15 381.73 L1075.40 383.39 L1075.65 385.97 L1075.90 388.10 L1076.15 390.97 L1076.40 391.63 L1076.65 393.84 L1076.90 394.68 L1077.15 393.60 L1077.40 395.10 L1077.65 395.24 L1077.90 395.81 L1078.15 396.49 L1078.40 395.95 L1078.65 396.79 L1078.90 396.57 L1079.15 396.29 L1079.40 396.35 L1079.65 397.40 L1079.90 395.65 L1080.15 397.20 L1080.40 396.52 L1080.65 395.46 L1080.90 396.92 L1081.15 397.75 L1081.40 396.97 L1081.65 396.89 L1081.90 396.91 L1082.15 397.16 L1082.40 397.46 L1082.65 396.44 L1082.90 396.79 L1083.15 396.39 L1083.40 396.88 L1083.65 396.44 L1083.90 395.32 L1084.15 396.06 L1084.40 396.17 L1084.65 395.15 L1084.90 394.58 L1085.15 395.51 L1085.40 396.15 L1085.65 396.61 L1085.90 395.49 L1086.15 395.85 L1086.40 394.63 L1086.65 393.41 L1086.90 394.02 L1087.15 393.32 L1087.40 393.74 L1087.65 393.37 L1087.90 391.90 L1088.15 390.76 L1088.40 390.36 L1088.65 389.13 L1088.90 386.72 L1089.15 383.99 L1089.40 382.17 L1089.65 378.39 L1089.90 372.31 L1090.15 365.60 L1090.40 355.39 L1090.65 346.84 L1090.90 335.37 L1091.15 325.34 L1091.40 315.97 L1091.65 310.59 L1091.90 310.75 L1092.15 315.22 L1092.40 323.60 L1092.65 333.57 L1092.90 344.90 L1093.15 354.36 L1093.40 363.70 L1093.65 371.13 L1093.90 376.43 L1094.15 379.64 L1094.40 382.57 L1094.65 384.48 L1094.90 384.75 L1095.15 383.74 L1095.40 384.45 L1095.65 383.45 L1095.90 384.56 L1096.15 384.06 L1096.40 384.67 L1096.65 388.44 L1096.90 390.04 L1097.15 392.45 L1097.40 391.68 L1097.65 392.45 L1097.90 393.31 L1098.15 390.71 L1098.40 391.06 L1098.65 389.25 L1098.90 389.00 L1099.15 385.66 L1099.40 382.78 L1099.65 378.26 L1099.90 375.76 L1100.15 374.95 L1100.40 374.99 L1100.65 376.18 L1100.90 380.18 L1101.15 382.14 L1101.40 385.63 L1101.65 388.68 L1101.90 391.50 L1102.15 392.21 L1102.40 393.44 L1102.65 394.28 L1102.90 394.16 L1103.15 395.46 L1103.40 395.10 L1103.65 394.21 L1103.90 395.33 L1104.15 395.78 L1104.40 397.24 L1104.65 396.96 L1104.90 397.96 L1105.15 397.69 L1105.40 398.40 L1105.65 397.05 L1105.90 397.44 L1106.15 397.84 L1106.40 397.91 L1106.65 397.68 L1106.90 397.25 L1107.15 396.44 L1107.40 396.95 L1107.65 396.85 L1107.90 398.61 L1108.15 397.23 L1108.40 396.97 L1108.65 398.25 L1108.90 396.13 L1109.15 397.95 L1109.40 397.38 L1109.65 396.70 L1109.90 396.76 L1110.15 397.26 L1110.40 397.62 L1110.65 397.26 L1110.90 398.02 L1111.15 398.43 L1111.40 397.63 L1111.65 398.52 L1111.90 397.43 L1112.15 397.61 L1112.40 398.73 L1112.65 398.88 L1112.90 399.03 L1113.15 398.80 L1113.40 397.22 L1113.65 397.74 L1113.90 397.40 L1114.15 398.56 L1114.40 397.66 L1114.65 398.04 L1114.90 395.07 L1115.15 396.61 L1115.40 396.50 L1115.65 397.89 L1115.90 397.96 L1116.15 397.47 L1116.40 395.82 L1116.65 394.92 L1116.90 393.29 L1117.15 392.92 L1117.40 392.18 L1117.65 392.03 L1117.90 392.69 L1118.15 391.14 L1118.40 392.15 L1118.65 392.23 L1118.90 392.16 L1119.15 392.33 L1119.40 393.81 L1119.65 395.22 L1119.90 395.59 L1120.15 396.64 L1120.40 396.75 L1120.65 396.74 L1120.90 397.09 L1121.15 397.00 L1121.40 397.24 L1121.65 397.84 L1121.90 397.45 L1122.15 397.31 L1122.40 397.81 L1122.65 396.66 L1122.90 397.63 L1123.15 397.83 L1123.40 396.48 L1123.65 397.72 L1123.90 397.23 L1124.15 397.50 L1124.40 398.26 L1124.65 396.69 L1124.90 397.94 L1125.15 397.05 L1125.40 397.49 L1125.65 395.63 L1125.90 397.71 L1126.15 397.84 L1126.40 396.68 L1126.65 398.48 L1126.90 396.77 L1127.15 397.10 L1127.40 396.43 L1127.65 397.06 L1127.90 396.70 L1128.15 396.50 L1128.40 396.62 L1128.65 396.28 L1128.90 397.33 L1129.15 396.66 L1129.40 398.15 L1129.65 396.96 L1129.90 396.93 L1130.15 396.91 L1130.40 397.03 L1130.65 397.37 L1130.90 396.61 L1131.15 396.40 L1131.40 396.44 L1131.65 396.05 L1131.90 396.53 L1132.15 395.78 L1132.40 396.56 L1132.65 396.62 L1132.90 396.75 L1133.15 396.37 L1133.40 397.48 L1133.65 396.72 L1133.90 396.07 L1134.15 396.57 L1134.40 396.45 L1134.65 396.22 L1134.90 396.58 L1135.15 395.59 L1135.40 395.57 L1135.65 395.35 L1135.90 394.63 L1136.15 394.73 L1136.40 396.79 L1136.65 396.91 L1136.90 396.83 L1137.15 396.29 L1137.40 396.11 L1137.65 395.88 L1137.90 395.46 L1138.15 396.70 L1138.40 395.25 L1138.65 395.88 L1138.90 395.81 L1139.15 397.13 L1139.40 395.86 L1139.65 396.67 L1139.90 395.17 L1140.15 397.00 L1140.40 397.15 L1140.65 395.72 L1140.90 396.89 L1141.15 395.77 L1141.40 396.69 L1141.65 397.34 L1141.90 396.37 L1142.15 396.04 L1142.40 396.39 L1142.65 396.03 L1142.90 395.73 L1143.15 396.52 L1143.40 394.47 L1143.65 395.19 L1143.90 395.37 L1144.15 395.56 L1144.40 394.79 L1144.65 393.66 L1144.90 392.11 L1145.15 394.93 L1145.40 392.31 L1145.65 392.84 L1145.90 391.63 L1146.15 391.87 L1146.40 390.18 L1146.65 391.05 L1146.90 391.39 L1147.15 391.63 L1147.40 393.44 L1147.65 393.72 L1147.90 394.87 L1148.15 394.91 L1148.40 395.06 L1148.65 394.54 L1148.90 395.09 L1149.15 396.17 L1149.40 394.14 L1149.65 396.04 L1149.90 394.98 L1150.15 396.20 L1150.40 396.28 L1150.65 395.41 L1150.90 394.72 L1151.15 395.49 L1151.40 396.05 L1151.65 395.01 L1151.90 396.33 L1152.15 396.39 L1152.40 394.97 L1152.65 394.61 L1152.90 395.26 L1153.15 394.85 L1153.40 394.19 L1153.65 394.29 L1153.90 395.76 L1154.15 394.52 L1154.40 394.46 L1154.65 393.20 L1154.90 393.45 L1155.15 393.37 L1155.40 390.99 L1155.65 391.12 L1155.90 391.31 L1156.15 391.49 L1156.40 392.49 L1156.65 391.77 L1156.90 392.55 L1157.15 393.53 L1157.40 394.13 L1157.65 394.27 L1157.90 393.50 L1158.15 393.50 L1158.40 393.65 L1158.65 394.93 L1158.90 395.21 L1159.15 395.30 L1159.40 396.23 L1159.65 395.57 L1159.90 396.78 L1160.15 395.91 L1160.40 395.76 L1160.65 394.53 L1160.90 394.80 L1161.15 394.13 L1161.40 394.11 L1161.65 393.95 L1161.90 395.69 L1162.15 395.70 L1162.40 397.42 L1162.65 395.47 L1162.90 395.81 L1163.15 394.96 L1163.40 396.17 L1163.65 395.59 L1163.90 396.94 L1164.15 396.96 L1164.40 394.15 L1164.65 394.22 L1164.90 393.46 L1165.15 393.61 L1165.40 392.88 L1165.65 393.47 L1165.90 393.12 L1166.15 391.15 L1166.40 389.93 L1166.65 387.09 L1166.90 384.58 L1167.15 381.12 L1167.40 375.07 L1167.65 369.76 L1167.90 358.48 L1168.15 343.89 L1168.40 324.18 L1168.65 295.24 L1168.90 263.25 L1169.15 234.69 L1169.40 214.03 L1169.65 207.59 L1169.90 215.56 L1170.15 232.08 L1170.40 252.27 L1170.65 270.95 L1170.90 287.23 L1171.15 304.93 L1171.40 319.80 L1171.65 334.90 L1171.90 351.54 L1172.15 363.94 L1172.40 374.10 L1172.65 382.97 L1172.90 387.09 L1173.15 388.81 L1173.40 391.24 L1173.65 389.48 L1173.90 390.75 L1174.15 390.06 L1174.40 387.30 L1174.65 385.88 L1174.90 386.05 L1175.15 385.48 L1175.40 385.61 L1175.65 386.32 L1175.90 387.67 L1176.15 389.25 L1176.40 391.20 L1176.65 391.33 L1176.90 393.39 L1177.15 393.03 L1177.40 393.27 L1177.65 394.25 L1177.90 394.82 L1178.15 394.90 L1178.40 394.35 L1178.65 393.14 L1178.90 394.31 L1179.15 393.34 L1179.40 393.44 L1179.65 393.26 L1179.90 394.70 L1180.15 393.72 L1180.40 394.00 L1180.65 395.18 L1180.90 394.46 L1181.15 394.93 L1181.40 394.11 L1181.65 392.32 L1181.90 393.22 L1182.15 394.21 L1182.40 392.84 L1182.65 392.42 L1182.90 392.52 L1183.15 392.75 L1183.40 391.86 L1183.65 392.34 L1183.90 391.07 L1184.15 389.59 L1184.40 388.43 L1184.65 386.58 L1184.90 384.92 L1185.15 382.89 L1185.40 381.73 L1185.65 383.25 L1185.90 384.80 L1186.15 387.22 L1186.40 388.04 L1186.65 389.68 L1186.90 390.19 L1187.15 390.75 L1187.40 391.16 L1187.65 391.78 L1187.90 391.46 L1188.15 392.80 L1188.40 393.70 L1188.65 392.40 L1188.90 393.48 L1189.15 393.06 L1189.40 393.34 L1189.65 393.39 L1189.90 393.84 L1190.15 393.30 L1190.40 393.25 L1190.65 393.63 L1190.90 392.88 L1191.15 392.43 L1191.40 393.22 L1191.65 394.35 L1191.90 393.61 L1192.15 393.26 L1192.40 392.83 L1192.65 393.88 L1192.90 393.79 L1193.15 394.93 L1193.40 392.82 L1193.65 393.39 L1193.90 393.34 L1194.15 393.12 L1194.40 391.08 L1194.65 392.48 L1194.90 392.53 L1195.15 392.91 L1195.40 393.58 L1195.65 392.67 L1195.90 393.22 L1196.15 391.91 L1196.40 391.17 L1196.65 391.65 L1196.90 392.39 L1197.15 393.37 L1197.40 392.26 L1197.65 393.44 L1197.90 391.89 L1198.15 391.98 L1198.40 390.84 L1198.65 390.91 L1198.90 390.22 L1199.15 390.45 L1199.40 389.62 L1199.65 389.99 L1199.90 389.38 L1200.15 389.29 L1200.40 390.86 L1200.65 389.18 L1200.90 389.87 L1201.15 391.00 L1201.40 390.59 L1201.65 390.64 L1201.90 390.42 L1202.15 390.11 L1202.40 392.08 L1202.65 390.04 L1202.90 391.13 L1203.15 390.28 L1203.40 390.10 L1203.65 389.30 L1203.90 388.63 L1204.15 387.92 L1204.40 385.10 L1204.65 382.43 L1204.90 379.45 L1205.15 375.32 L1205.40 373.04 L1205.65 369.25 L1205.90 368.03 L1206.15 369.57 L1206.40 370.82 L1206.65 372.81 L1206.90 376.70 L1207.15 375.87 L1207.40 378.38 L1207.65 379.13 L1207.90 377.00 L1208.15 379.95 L1208.40 378.74 L1208.65 379.98 L1208.90 382.33 L1209.15 384.19 L1209.40 387.43 L1209.65 386.91 L1209.90 387.89 L1210.15 389.01 L1210.40 389.09 L1210.65 387.62 L1210.90 387.68 L1211.15 385.12 L1211.40 384.06 L1211.65 382.73 L1211.90 381.93 L1212.15 381.07 L1212.40 380.72 L1212.65 379.85 L1212.90 379.25 L1213.15 377.83 L1213.40 377.84 L1213.65 379.05 L1213.90 378.02 L1214.15 376.34 L1214.40 372.79 L1214.65 368.02 L1214.90 365.39 L1215.15 361.24 L1215.40 351.68 L1215.65 345.87 L1215.90 339.94 L1216.15 333.30 L1216.40 332.64 L1216.65 332.95 L1216.90 335.09 L1217.15 341.35 L1217.40 348.09 L1217.65 355.35 L1217.90 362.43 L1218.15 367.17 L1218.40 372.37 L1218.65 377.99 L1218.90 379.68 L1219.15 382.69 L1219.40 384.16 L1219.65 386.43 L1219.90 386.42 L1220.15 388.29 L1220.40 388.64 L1220.65 389.55 L1220.90 389.40 L1221.15 388.71 L1221.40 388.86 L1221.65 390.92 L1221.90 391.39 L1222.15 390.73 L1222.40 391.30 L1222.65 390.65 L1222.90 390.36 L1223.15 389.75 L1223.40 390.79 L1223.65 392.02 L1223.90 390.88 L1224.15 392.76 L1224.40 392.62 L1224.65 392.45 L1224.90 390.83 L1225.15 390.35 L1225.40 391.03 L1225.65 389.00 L1225.90 389.08 L1226.15 387.84 L1226.40 386.96 L1226.65 386.29 L1226.90 384.73 L1227.15 385.67 L1227.40 385.55 L1227.65 384.85 L1227.90 386.90 L1228.15 387.51 L1228.40 388.73 L1228.65 388.80 L1228.90 389.68 L1229.15 390.90 L1229.40 390.40 L1229.65 389.80 L1229.90 390.64 L1230.15 390.95 L1230.40 390.08 L1230.65 390.97 L1230.90 390.92 L1231.15 391.86 L1231.40 391.24 L1231.65 391.06 L1231.90 391.49 L1232.15 391.47 L1232.40 390.95 L1232.65 393.15 L1232.90 392.65 L1233.15 393.53 L1233.40 392.97 L1233.65 392.23 L1233.90 391.71 L1234.15 390.33 L1234.40 391.91 L1234.65 391.52 L1234.90 390.63 L1235.15 390.90 L1235.40 391.08 L1235.65 389.54 L1235.90 389.64 L1236.15 387.41 L1236.40 387.71 L1236.65 386.49 L1236.90 386.09 L1237.15 384.61 L1237.40 383.95 L1237.65 384.34 L1237.90 384.66 L1238.15 384.44 L1238.40 387.62 L1238.65 388.59 L1238.90 389.30 L1239.15 389.93 L1239.40 390.86 L1239.65 390.80 L1239.90 390.66 L1240.15 391.60 L1240.40 391.14 L1240.65 391.47 L1240.90 390.97 L1241.15 390.80 L1241.40 389.65 L1241.65 389.90 L1241.90 391.68 L1242.15 389.68 L1242.40 388.68 L1242.65 388.24 L1242.90 386.92 L1243.15 386.21 L1243.40 384.09 L1243.65 384.27 L1243.90 383.89 L1244.15 382.42 L1244.40 382.75 L1244.65 385.07 L1244.90 384.74 L1245.15 386.33 L1245.40 388.61 L1245.65 389.30 L1245.90 388.88 L1246.15 390.48 L1246.40 390.51 L1246.65 390.63 L1246.90 392.31 L1247.15 391.53 L1247.40 390.98 L1247.65 392.78 L1247.90 390.65 L1248.15 389.71 L1248.40 390.57 L1248.65 390.42 L1248.90 390.89 L1249.15 391.90 L1249.40 391.20 L1249.65 392.40 L1249.90 392.17 L1250.15 391.81 L1250.40 392.07 L1250.65 392.39 L1250.90 392.17 L1251.15 391.61 L1251.40 391.99 L1251.65 390.07 L1251.90 390.70 L1252.15 390.39 L1252.40 390.19 L1252.65 389.74 L1252.90 388.07 L1253.15 387.83 L1253.40 384.01 L1253.65 382.11 L1253.90 378.61 L1254.15 375.86 L1254.40 370.75 L1254.65 370.14 L1254.90 368.31 L1255.15 368.52 L1255.40 369.35 L1255.65 371.87 L1255.90 375.09 L1256.15 372.95 L1256.40 374.11 L1256.65 375.89 L1256.90 376.26 L1257.15 377.44 L1257.40 378.44 L1257.65 380.19 L1257.90 382.43 L1258.15 386.16 L1258.40 387.63 L1258.65 389.43 L1258.90 391.03 L1259.15 390.70 L1259.40 391.10 L1259.65 389.88 L1259.90 388.98 L1260.15 388.43 L1260.40 387.44 L1260.65 385.84 L1260.90 384.45 L1261.15 381.78 L1261.40 378.02 L1261.65 373.62 L1261.90 365.38 L1262.15 354.12 L1262.40 338.45 L1262.65 320.56 L1262.90 305.26 L1263.15 295.96 L1263.40 291.50 L1263.65 295.42 L1263.90 303.33 L1264.15 313.03 L1264.40 320.92 L1264.65 326.20 L1264.90 329.27 L1265.15 334.05 L1265.40 342.60 L1265.65 353.19 L1265.90 364.96 L1266.15 373.10 L1266.40 380.78 L1266.65 384.91 L1266.90 389.45 L1267.15 391.21 L1267.40 391.57 L1267.65 391.62 L1267.90 391.75 L1268.15 392.64 L1268.40 392.34 L1268.65 392.47 L1268.90 393.01 L1269.15 392.90 L1269.40 393.61 L1269.65 392.80 L1269.90 392.60 L1270.15 392.03 L1270.40 392.33 L1270.65 392.96 L1270.90 392.56 L1271.15 392.32 L1271.40 392.64 L1271.65 393.11 L1271.90 393.82 L1272.15 394.09 L1272.40 393.44 L1272.65 393.78 L1272.90 393.67 L1273.15 392.55 L1273.40 392.34 L1273.65 388.39 L1273.90 386.88 L1274.15 382.64 L1274.40 377.04 L1274.65 371.17 L1274.90 365.85 L1275.15 362.81 L1275.40 360.52 L1275.65 362.00 L1275.90 363.66 L1276.15 368.47 L1276.40 370.47 L1276.65 372.19 L1276.90 372.63 L1277.15 371.50 L1277.40 369.60 L1277.65 366.43 L1277.90 360.78 L1278.15 356.81 L1278.40 355.59 L1278.65 353.79 L1278.90 355.68 L1279.15 358.85 L1279.40 362.98 L1279.65 367.76 L1279.90 371.96 L1280.15 376.19 L1280.40 381.18 L1280.65 382.80 L1280.90 384.26 L1281.15 385.96 L1281.40 385.15 L1281.65 386.77 L1281.90 385.07 L1282.15 385.27 L1282.40 383.03 L1282.65 380.42 L1282.90 376.47 L1283.15 375.18 L1283.40 371.84 L1283.65 371.72 L1283.90 371.48 L1284.15 373.85 L1284.40 375.94 L1284.65 378.70 L1284.90 381.87 L1285.15 384.62 L1285.40 387.28 L1285.65 387.64 L1285.90 388.09 L1286.15 390.01 L1286.40 389.44 L1286.65 390.71 L1286.90 389.92 L1287.15 391.13 L1287.40 391.36 L1287.65 391.26 L1287.90 392.14 L1288.15 390.90 L1288.40 392.62 L1288.65 391.13 L1288.90 392.75 L1289.15 392.96 L1289.40 392.54 L1289.65 392.08 L1289.90 394.27 L1290.15 394.19 L1290.40 394.61 L1290.65 394.61 L1290.90 395.40 L1291.15 394.33 L1291.40 394.03 L1291.65 394.52 L1291.90 395.20 L1292.15 394.49 L1292.40 395.02 L1292.65 396.26 L1292.90 395.44 L1293.15 395.45 L1293.40 394.73 L1293.65 394.81 L1293.90 395.03 L1294.15 395.96 L1294.40 397.09 L1294.65 396.16 L1294.90 396.56 L1295.15 396.26 L1295.40 394.77 L1295.65 395.60 L1295.90 395.45 L1296.15 396.32 L1296.40 396.07 L1296.65 396.04 L1296.90 395.55 L1297.15 396.93 L1297.40 397.49 L1297.65 397.43 L1297.90 396.79" fill="none" stroke="#050505" stroke-width="1.15" stroke-linejoin="round"/>
<text transform="translate(840.15 392.00) rotate(-90)" font-family='"Liberation Sans", sans-serif' font-size="16.20" fill="#2b2b2b">(0015)</text>
<text transform="translate(870.45 391.00) rotate(-90)" font-family='"Liberation Sans", sans-serif' font-size="16.20" fill="#2b2b2b">(0018)</text>
<text transform="translate(906.35 389.10) rotate(-90)" font-family='"Liberation Sans", sans-serif' font-size="16.20" fill="#2b2b2b">(0021)</text>
<text transform="translate(937.55 378.30) rotate(-90)" font-family='"Liberation Sans", sans-serif' font-size="16.20" fill="#2b2b2b">(0024)</text>
<text transform="translate(947.45 76.80) rotate(-90)" font-family='"Liberation Sans", sans-serif' font-size="16.20" fill="#2b2b2b">(101)</text>
<text transform="translate(971.40 236.30) rotate(-90)" font-family='"Liberation Sans", sans-serif' font-size="16.20" fill="#2b2b2b">(0027)</text>
<text transform="translate(981.80 161.90) rotate(-90)" font-family='"Liberation Sans", sans-serif' font-size="16.20" fill="#2b2b2b">(1013)</text>
<text transform="translate(998.55 119.00) rotate(-90)" font-family='"Liberation Sans", sans-serif' font-size="16.20" fill="#2b2b2b">(1014)</text>
<text transform="translate(1009.70 361.40) rotate(-90)" font-family='"Liberation Sans", sans-serif' font-size="16.20" fill="#2b2b2b">(0030)</text>
<text transform="translate(1096.90 310.20) rotate(-90)" font-family='"Liberation Sans", sans-serif' font-size="16.20" fill="#2b2b2b">(1028)</text>
<text transform="translate(1174.75 208.40) rotate(-90)" font-family='"Liberation Sans", sans-serif' font-size="16.20" fill="#2b2b2b">(110)</text>
<text transform="translate(1221.65 330.80) rotate(-90)" font-family='"Liberation Sans", sans-serif' font-size="16.20" fill="#2b2b2b">(1041)</text>
<text transform="translate(1268.95 292.60) rotate(-90)" font-family='"Liberation Sans", sans-serif' font-size="16.20" fill="#2b2b2b">(1127)</text>
</g>
<g id="panel-c">
<rect x="380.70" y="493.40" width="583.80" height="382.20" fill="none" stroke="#111" stroke-width="1.20"/>
<path d="M389.68 875.60 v3.80 M407.64 875.60 v3.80 M425.61 875.60 v7.20 M443.57 875.60 v3.80 M461.53 875.60 v3.80 M479.50 875.60 v3.80 M497.46 875.60 v3.80 M515.42 875.60 v7.20 M533.39 875.60 v3.80 M551.35 875.60 v3.80 M569.31 875.60 v3.80 M587.28 875.60 v3.80 M605.24 875.60 v7.20 M623.20 875.60 v3.80 M641.16 875.60 v3.80 M659.13 875.60 v3.80 M677.09 875.60 v3.80 M695.05 875.60 v7.20 M713.02 875.60 v3.80 M730.98 875.60 v3.80 M748.94 875.60 v3.80 M766.91 875.60 v3.80 M784.87 875.60 v7.20 M802.83 875.60 v3.80 M820.80 875.60 v3.80 M838.76 875.60 v3.80 M856.72 875.60 v3.80 M874.68 875.60 v7.20 M892.65 875.60 v3.80 M910.61 875.60 v3.80 M928.57 875.60 v3.80 M946.54 875.60 v3.80 M964.50 875.60 v7.20 M380.70 522.20 h-7.00 M380.70 558.30 h-3.70 M380.70 594.40 h-7.00 M380.70 630.50 h-3.70 M380.70 666.60 h-7.00 M380.70 702.70 h-3.70 M380.70 738.80 h-7.00 M380.70 774.90 h-3.70 M380.70 811.00 h-7.00 M380.70 847.10 h-3.70" fill="none" stroke="#111" stroke-width="1.20"/>
<text transform="translate(425.51 903.20) scale(0.955 1)" font-family='"Liberation Sans", sans-serif' font-size="21.2" text-anchor="middle" fill="#1c1c1c" letter-spacing="0.3">10</text>
<text transform="translate(515.32 903.20) scale(0.955 1)" font-family='"Liberation Sans", sans-serif' font-size="21.2" text-anchor="middle" fill="#1c1c1c" letter-spacing="0.3">20</text>
<text transform="translate(605.14 903.20) scale(0.955 1)" font-family='"Liberation Sans", sans-serif' font-size="21.2" text-anchor="middle" fill="#1c1c1c" letter-spacing="0.3">30</text>
<text transform="translate(694.95 903.20) scale(0.955 1)" font-family='"Liberation Sans", sans-serif' font-size="21.2" text-anchor="middle" fill="#1c1c1c" letter-spacing="0.3">40</text>
<text transform="translate(784.77 903.20) scale(0.955 1)" font-family='"Liberation Sans", sans-serif' font-size="21.2" text-anchor="middle" fill="#1c1c1c" letter-spacing="0.3">50</text>
<text transform="translate(874.58 903.20) scale(0.955 1)" font-family='"Liberation Sans", sans-serif' font-size="21.2" text-anchor="middle" fill="#1c1c1c" letter-spacing="0.3">60</text>
<text transform="translate(964.40 903.20) scale(0.955 1)" font-family='"Liberation Sans", sans-serif' font-size="21.2" text-anchor="middle" fill="#1c1c1c" letter-spacing="0.3">70</text>
<text y="935.90" font-size="33" fill="#111" font-family='"Liberation Sans", sans-serif' xml:space="preserve"><tspan x="611.70">2</tspan><tspan x="630.50" font-size="30" textLength="15.9" lengthAdjust="spacingAndGlyphs" font-family='"Liberation Serif", serif'>θ</tspan><tspan x="646.07" letter-spacing="0.45"> (°)</tspan></text>
<text transform="translate(364.80 832.50) rotate(-90)" font-family='"Liberation Sans", sans-serif' font-size="26.50" fill="#111">XRD Intensity (arb. units)</text>
<text x="396.80" y="546.00" font-family='"Liberation Sans", sans-serif' font-size="45.00" font-weight="bold" text-anchor="start" fill="#000" >(c)</text>
<path d="M782.40 526.10 H871.50" stroke="#222" stroke-width="1.3" fill="none"/>
<text x="881.90" y="539.70" font-family='"Liberation Sans", sans-serif' font-size="39.60" font-weight="bold" text-anchor="start" fill="#000" letter-spacing="-1.70">K11</text>
<path d="M380.70 838.65 L380.95 838.87 L381.20 838.27 L381.45 839.91 L381.70 839.87 L381.95 839.90 L382.20 839.65 L382.45 839.97 L382.70 841.05 L382.95 840.84 L383.20 842.09 L383.45 843.05 L383.70 842.24 L383.95 843.00 L384.20 844.24 L384.45 844.00 L384.70 844.86 L384.95 843.44 L385.20 843.96 L385.45 844.86 L385.70 844.91 L385.95 844.41 L386.20 844.94 L386.45 844.56 L386.70 844.75 L386.95 844.74 L387.20 845.09 L387.45 845.73 L387.70 845.44 L387.95 844.25 L388.20 845.80 L388.45 847.19 L388.70 844.22 L388.95 845.65 L389.20 846.33 L389.45 846.88 L389.70 847.34 L389.95 847.75 L390.20 848.28 L390.45 848.41 L390.70 847.40 L390.95 847.13 L391.20 846.88 L391.45 847.69 L391.70 846.90 L391.95 846.87 L392.20 848.92 L392.45 847.72 L392.70 848.05 L392.95 849.59 L393.20 848.55 L393.45 849.33 L393.70 849.02 L393.95 848.27 L394.20 848.51 L394.45 850.05 L394.70 850.17 L394.95 850.29 L395.20 850.81 L395.45 850.15 L395.70 851.70 L395.95 850.18 L396.20 849.53 L396.45 850.77 L396.70 851.61 L396.95 852.32 L397.20 851.37 L397.45 851.88 L397.70 851.75 L397.95 853.01 L398.20 850.54 L398.45 852.49 L398.70 852.70 L398.95 853.13 L399.20 853.37 L399.45 853.46 L399.70 852.72 L399.95 853.31 L400.20 854.00 L400.45 854.06 L400.70 853.76 L400.95 853.22 L401.20 853.53 L401.45 853.96 L401.70 853.52 L401.95 854.62 L402.20 853.71 L402.45 852.66 L402.70 854.39 L402.95 852.89 L403.20 853.99 L403.45 854.02 L403.70 855.00 L403.95 855.16 L404.20 855.61 L404.45 855.05 L404.70 856.66 L404.95 855.89 L405.20 855.47 L405.45 856.02 L405.70 855.64 L405.95 855.79 L406.20 856.22 L406.45 856.19 L406.70 855.36 L406.95 855.13 L407.20 856.60 L407.45 856.62 L407.70 856.55 L407.95 856.54 L408.20 856.63 L408.45 856.88 L408.70 856.91 L408.95 857.26 L409.20 857.44 L409.45 856.63 L409.70 857.30 L409.95 856.51 L410.20 856.21 L410.45 858.13 L410.70 857.70 L410.95 858.88 L411.20 857.02 L411.45 858.67 L411.70 857.72 L411.95 858.43 L412.20 857.76 L412.45 859.84 L412.70 858.52 L412.95 859.97 L413.20 858.35 L413.45 857.62 L413.70 857.67 L413.95 858.83 L414.20 857.87 L414.45 858.50 L414.70 859.82 L414.95 860.04 L415.20 859.15 L415.45 859.54 L415.70 860.75 L415.95 859.29 L416.20 860.04 L416.45 859.59 L416.70 858.49 L416.95 859.49 L417.20 859.59 L417.45 860.15 L417.70 859.50 L417.95 860.70 L418.20 859.91 L418.45 860.34 L418.70 859.38 L418.95 859.83 L419.20 860.57 L419.45 860.63 L419.70 860.62 L419.95 860.49 L420.20 859.48 L420.45 860.82 L420.70 861.07 L420.95 860.93 L421.20 861.80 L421.45 860.95 L421.70 861.82 L421.95 861.14 L422.20 860.41 L422.45 860.24 L422.70 861.64 L422.95 860.16 L423.20 860.41 L423.45 859.63 L423.70 861.70 L423.95 861.91 L424.20 860.18 L424.45 859.64 L424.70 860.40 L424.95 860.15 L425.20 860.33 L425.45 861.20 L425.70 860.33 L425.95 861.39 L426.20 861.94 L426.45 862.22 L426.70 862.25 L426.95 861.56 L427.20 862.08 L427.45 862.53 L427.70 861.24 L427.95 862.57 L428.20 861.39 L428.45 862.19 L428.70 860.84 L428.95 862.14 L429.20 861.83 L429.45 862.90 L429.70 861.96 L429.95 861.55 L430.20 862.85 L430.45 861.77 L430.70 861.87 L430.95 862.18 L431.20 861.73 L431.45 861.72 L431.70 862.05 L431.95 863.29 L432.20 863.98 L432.45 864.60 L432.70 864.72 L432.95 863.22 L433.20 862.66 L433.45 861.34 L433.70 861.85 L433.95 862.42 L434.20 863.07 L434.45 862.46 L434.70 863.52 L434.95 863.42 L435.20 862.65 L435.45 862.21 L435.70 862.98 L435.95 862.44 L436.20 862.22 L436.45 862.88 L436.70 863.58 L436.95 862.20 L437.20 863.80 L437.45 863.96 L437.70 863.50 L437.95 864.12 L438.20 862.54 L438.45 863.43 L438.70 865.49 L438.95 864.51 L439.20 864.78 L439.45 863.55 L439.70 863.22 L439.95 862.51 L440.20 862.55 L440.45 863.75 L440.70 863.18 L440.95 863.13 L441.20 863.76 L441.45 862.60 L441.70 862.54 L441.95 862.93 L442.20 863.46 L442.45 864.92 L442.70 863.40 L442.95 864.52 L443.20 864.68 L443.45 864.42 L443.70 865.02 L443.95 864.08 L444.20 864.61 L444.45 863.75 L444.70 864.75 L444.95 863.98 L445.20 863.05 L445.45 862.21 L445.70 863.25 L445.95 863.62 L446.20 864.92 L446.45 865.18 L446.70 863.57 L446.95 864.73 L447.20 864.24 L447.45 864.14 L447.70 863.33 L447.95 864.12 L448.20 864.10 L448.45 863.49 L448.70 864.77 L448.95 864.21 L449.20 865.09 L449.45 864.42 L449.70 864.23 L449.95 864.22 L450.20 864.16 L450.45 865.18 L450.70 864.07 L450.95 864.52 L451.20 864.31 L451.45 864.60 L451.70 865.49 L451.95 864.82 L452.20 864.68 L452.45 863.96 L452.70 864.04 L452.95 864.44 L453.20 864.16 L453.45 864.15 L453.70 865.08 L453.95 865.28 L454.20 864.03 L454.45 864.39 L454.70 863.97 L454.95 864.95 L455.20 864.52 L455.45 863.43 L455.70 863.35 L455.95 864.41 L456.20 864.48 L456.45 864.66 L456.70 865.01 L456.95 864.90 L457.20 865.72 L457.45 865.18 L457.70 864.82 L457.95 864.43 L458.20 865.77 L458.45 865.38 L458.70 864.52 L458.95 864.24 L459.20 863.72 L459.45 864.76 L459.70 864.60 L459.95 864.54 L460.20 863.90 L460.45 864.42 L460.70 865.72 L460.95 865.37 L461.20 865.35 L461.45 864.76 L461.70 864.75 L461.95 865.54 L462.20 864.79 L462.45 864.58 L462.70 865.07 L462.95 865.14 L463.20 865.14 L463.45 865.26 L463.70 865.59 L463.95 863.92 L464.20 866.90 L464.45 864.91 L464.70 865.12 L464.95 865.89 L465.20 864.72 L465.45 865.55 L465.70 865.62 L465.95 865.37 L466.20 865.42 L466.45 865.12 L466.70 865.74 L466.95 864.18 L467.20 865.41 L467.45 864.98 L467.70 865.09 L467.95 864.44 L468.20 865.06 L468.45 864.81 L468.70 865.79 L468.95 864.07 L469.20 865.01 L469.45 865.53 L469.70 866.60 L469.95 864.85 L470.20 865.83 L470.45 865.29 L470.70 865.23 L470.95 864.39 L471.20 863.47 L471.45 864.72 L471.70 862.71 L471.95 863.28 L472.20 862.82 L472.45 863.88 L472.70 865.30 L472.95 864.65 L473.20 863.67 L473.45 864.09 L473.70 864.43 L473.95 863.48 L474.20 865.46 L474.45 864.71 L474.70 864.46 L474.95 865.35 L475.20 864.98 L475.45 865.55 L475.70 865.19 L475.95 864.81 L476.20 865.58 L476.45 865.96 L476.70 865.61 L476.95 866.12 L477.20 865.10 L477.45 864.91 L477.70 866.07 L477.95 865.00 L478.20 866.22 L478.45 865.61 L478.70 865.67 L478.95 866.33 L479.20 866.06 L479.45 864.95 L479.70 867.34 L479.95 866.15 L480.20 866.35 L480.45 865.88 L480.70 865.89 L480.95 865.91 L481.20 865.91 L481.45 865.60 L481.70 864.18 L481.95 865.80 L482.20 866.13 L482.45 865.81 L482.70 866.15 L482.95 864.28 L483.20 865.28 L483.45 865.47 L483.70 866.52 L483.95 866.36 L484.20 866.77 L484.45 865.66 L484.70 866.85 L484.95 865.62 L485.20 865.84 L485.45 865.56 L485.70 865.79 L485.95 865.61 L486.20 866.27 L486.45 866.52 L486.70 865.98 L486.95 866.19 L487.20 865.55 L487.45 864.15 L487.70 864.70 L487.95 864.51 L488.20 864.97 L488.45 864.86 L488.70 865.30 L488.95 865.21 L489.20 865.69 L489.45 865.33 L489.70 864.68 L489.95 865.42 L490.20 865.60 L490.45 866.83 L490.70 866.98 L490.95 865.25 L491.20 865.96 L491.45 866.61 L491.70 864.89 L491.95 866.01 L492.20 864.77 L492.45 866.25 L492.70 866.05 L492.95 865.60 L493.20 865.49 L493.45 866.03 L493.70 865.31 L493.95 866.08 L494.20 864.78 L494.45 865.08 L494.70 866.18 L494.95 866.28 L495.20 864.92 L495.45 864.13 L495.70 863.49 L495.95 862.57 L496.20 863.43 L496.45 863.01 L496.70 862.25 L496.95 863.69 L497.20 863.95 L497.45 864.58 L497.70 865.22 L497.95 865.05 L498.20 865.58 L498.45 867.07 L498.70 865.47 L498.95 864.97 L499.20 865.60 L499.45 865.35 L499.70 866.22 L499.95 864.96 L500.20 867.37 L500.45 865.26 L500.70 866.32 L500.95 867.31 L501.20 866.28 L501.45 866.33 L501.70 865.60 L501.95 866.20 L502.20 865.81 L502.45 867.32 L502.70 866.02 L502.95 865.84 L503.20 866.27 L503.45 866.22 L503.70 865.95 L503.95 865.88 L504.20 865.57 L504.45 865.48 L504.70 865.70 L504.95 865.63 L505.20 865.44 L505.45 864.98 L505.70 866.55 L505.95 865.78 L506.20 865.63 L506.45 866.77 L506.70 865.72 L506.95 866.15 L507.20 867.27 L507.45 866.38 L507.70 865.96 L507.95 865.63 L508.20 865.99 L508.45 864.38 L508.70 866.14 L508.95 865.95 L509.20 866.55 L509.45 866.94 L509.70 867.09 L509.95 868.21 L510.20 867.06 L510.45 866.66 L510.70 866.42 L510.95 867.37 L511.20 866.02 L511.45 864.34 L511.70 865.43 L511.95 865.31 L512.20 865.93 L512.45 865.70 L512.70 865.68 L512.95 865.63 L513.20 865.99 L513.45 866.20 L513.70 867.03 L513.95 867.06 L514.20 866.41 L514.45 866.14 L514.70 866.48 L514.95 865.06 L515.20 866.82 L515.45 865.60 L515.70 866.07 L515.95 865.31 L516.20 866.04 L516.45 866.36 L516.70 865.57 L516.95 866.12 L517.20 865.46 L517.45 865.62 L517.70 864.33 L517.95 865.09 L518.20 865.42 L518.45 865.06 L518.70 864.45 L518.95 865.63 L519.20 865.03 L519.45 865.08 L519.70 864.02 L519.95 864.48 L520.20 864.43 L520.45 863.97 L520.70 865.02 L520.95 863.39 L521.20 864.31 L521.45 864.47 L521.70 864.22 L521.95 865.41 L522.20 865.71 L522.45 866.78 L522.70 866.24 L522.95 866.11 L523.20 865.80 L523.45 867.05 L523.70 865.50 L523.95 865.56 L524.20 866.45 L524.45 867.31 L524.70 866.01 L524.95 865.95 L525.20 866.80 L525.45 865.29 L525.70 865.39 L525.95 865.25 L526.20 865.00 L526.45 865.57 L526.70 865.02 L526.95 865.16 L527.20 866.33 L527.45 864.74 L527.70 865.05 L527.95 866.14 L528.20 865.61 L528.45 866.33 L528.70 866.14 L528.95 865.44 L529.20 866.46 L529.45 866.31 L529.70 865.26 L529.95 865.15 L530.20 867.15 L530.45 865.46 L530.70 866.11 L530.95 865.58 L531.20 865.54 L531.45 866.25 L531.70 864.09 L531.95 865.50 L532.20 865.81 L532.45 866.41 L532.70 865.07 L532.95 864.99 L533.20 865.87 L533.45 865.01 L533.70 865.50 L533.95 866.07 L534.20 866.15 L534.45 864.63 L534.70 864.42 L534.95 866.03 L535.20 865.60 L535.45 866.79 L535.70 864.94 L535.95 866.04 L536.20 865.12 L536.45 865.73 L536.70 865.83 L536.95 865.42 L537.20 865.53 L537.45 865.79 L537.70 865.61 L537.95 865.57 L538.20 866.14 L538.45 864.40 L538.70 866.30 L538.95 866.36 L539.20 866.17 L539.45 866.22 L539.70 865.80 L539.95 866.10 L540.20 864.20 L540.45 864.87 L540.70 866.23 L540.95 864.46 L541.20 865.47 L541.45 865.03 L541.70 864.45 L541.95 864.43 L542.20 863.34 L542.45 862.96 L542.70 862.93 L542.95 865.18 L543.20 865.99 L543.45 866.49 L543.70 864.93 L543.95 864.13 L544.20 864.85 L544.45 865.14 L544.70 864.75 L544.95 866.18 L545.20 865.86 L545.45 865.83 L545.70 865.32 L545.95 865.68 L546.20 867.17 L546.45 865.59 L546.70 865.52 L546.95 865.00 L547.20 866.35 L547.45 866.07 L547.70 866.57 L547.95 865.46 L548.20 865.89 L548.45 865.30 L548.70 865.48 L548.95 866.23 L549.20 865.24 L549.45 865.34 L549.70 866.76 L549.95 867.20 L550.20 865.95 L550.45 865.98 L550.70 866.16 L550.95 865.90 L551.20 866.27 L551.45 865.17 L551.70 865.52 L551.95 865.89 L552.20 866.43 L552.45 866.29 L552.70 865.63 L552.95 866.16 L553.20 865.32 L553.45 865.87 L553.70 864.82 L553.95 864.73 L554.20 863.28 L554.45 865.00 L554.70 864.67 L554.95 864.79 L555.20 865.37 L555.45 865.78 L555.70 865.58 L555.95 865.26 L556.20 866.10 L556.45 865.74 L556.70 865.49 L556.95 865.43 L557.20 864.77 L557.45 865.15 L557.70 864.41 L557.95 864.52 L558.20 865.18 L558.45 865.80 L558.70 865.41 L558.95 865.34 L559.20 866.19 L559.45 866.53 L559.70 866.22 L559.95 865.39 L560.20 865.74 L560.45 864.59 L560.70 863.98 L560.95 866.22 L561.20 865.69 L561.45 865.34 L561.70 865.92 L561.95 866.32 L562.20 865.94 L562.45 864.81 L562.70 866.21 L562.95 866.08 L563.20 865.68 L563.45 864.87 L563.70 864.27 L563.95 863.03 L564.20 863.57 L564.45 862.62 L564.70 861.95 L564.95 862.42 L565.20 862.30 L565.45 863.06 L565.70 863.40 L565.95 864.22 L566.20 863.35 L566.45 865.13 L566.70 864.92 L566.95 864.78 L567.20 864.37 L567.45 865.86 L567.70 864.30 L567.95 865.79 L568.20 864.15 L568.45 865.15 L568.70 865.00 L568.95 866.40 L569.20 864.84 L569.45 865.81 L569.70 864.55 L569.95 865.90 L570.20 865.86 L570.45 865.88 L570.70 864.65 L570.95 865.19 L571.20 865.05 L571.45 864.85 L571.70 865.23 L571.95 865.63 L572.20 863.60 L572.45 864.96 L572.70 865.82 L572.95 865.41 L573.20 866.09 L573.45 864.87 L573.70 865.25 L573.95 864.60 L574.20 865.03 L574.45 864.22 L574.70 865.57 L574.95 865.07 L575.20 864.84 L575.45 864.34 L575.70 864.32 L575.95 864.26 L576.20 864.74 L576.45 864.52 L576.70 864.20 L576.95 863.70 L577.20 864.21 L577.45 863.90 L577.70 863.70 L577.95 863.44 L578.20 863.58 L578.45 863.69 L578.70 863.17 L578.95 862.88 L579.20 862.33 L579.45 862.19 L579.70 862.86 L579.95 862.22 L580.20 864.14 L580.45 864.80 L580.70 865.47 L580.95 864.47 L581.20 865.29 L581.45 864.97 L581.70 864.23 L581.95 863.08 L582.20 863.44 L582.45 864.86 L582.70 864.05 L582.95 864.72 L583.20 864.26 L583.45 864.01 L583.70 864.91 L583.95 865.07 L584.20 865.79 L584.45 865.76 L584.70 865.21 L584.95 865.39 L585.20 864.54 L585.45 865.16 L585.70 863.33 L585.95 863.59 L586.20 864.09 L586.45 864.74 L586.70 864.46 L586.95 865.70 L587.20 864.80 L587.45 864.71 L587.70 864.21 L587.95 863.08 L588.20 863.04 L588.45 863.90 L588.70 863.58 L588.95 860.84 L589.20 860.41 L589.45 860.21 L589.70 860.84 L589.95 858.24 L590.20 857.70 L590.45 857.64 L590.70 858.72 L590.95 859.19 L591.20 859.37 L591.45 859.23 L591.70 860.56 L591.95 861.21 L592.20 860.73 L592.45 861.11 L592.70 862.42 L592.95 861.97 L593.20 864.25 L593.45 863.51 L593.70 864.48 L593.95 862.97 L594.20 863.08 L594.45 863.50 L594.70 863.98 L594.95 864.26 L595.20 864.45 L595.45 864.32 L595.70 863.96 L595.95 864.05 L596.20 863.37 L596.45 862.88 L596.70 862.67 L596.95 862.73 L597.20 863.34 L597.45 863.01 L597.70 863.24 L597.95 864.38 L598.20 864.05 L598.45 863.65 L598.70 864.12 L598.95 862.69 L599.20 862.19 L599.45 862.83 L599.70 862.44 L599.95 863.30 L600.20 863.42 L600.45 862.99 L600.70 863.15 L600.95 862.76 L601.20 861.82 L601.45 862.54 L601.70 861.93 L601.95 861.87 L602.20 861.90 L602.45 862.47 L602.70 862.30 L602.95 861.43 L603.20 862.45 L603.45 862.43 L603.70 862.25 L603.95 861.15 L604.20 860.79 L604.45 862.73 L604.70 861.13 L604.95 860.22 L605.20 857.49 L605.45 857.30 L605.70 854.93 L605.95 856.76 L606.20 856.57 L606.45 854.94 L606.70 855.88 L606.95 857.33 L607.20 856.58 L607.45 859.21 L607.70 859.00 L607.95 858.25 L608.20 859.61 L608.45 860.80 L608.70 860.68 L608.95 861.36 L609.20 861.08 L609.45 861.49 L609.70 860.03 L609.95 861.15 L610.20 860.51 L610.45 859.02 L610.70 859.12 L610.95 857.04 L611.20 855.44 L611.45 853.62 L611.70 853.81 L611.95 851.59 L612.20 851.61 L612.45 851.39 L612.70 852.34 L612.95 853.23 L613.20 854.25 L613.45 854.71 L613.70 854.90 L613.95 855.96 L614.20 856.04 L614.45 855.89 L614.70 855.80 L614.95 852.18 L615.20 849.85 L615.45 845.51 L615.70 840.76 L615.95 834.14 L616.20 825.93 L616.45 812.33 L616.70 795.14 L616.95 765.95 L617.20 721.74 L617.45 662.21 L617.70 596.66 L617.95 542.96 L618.20 522.53 L618.45 542.71 L618.70 595.70 L618.95 661.70 L619.20 720.67 L619.45 765.48 L619.70 793.17 L619.95 810.79 L620.20 823.24 L620.45 831.95 L620.70 836.99 L620.95 842.06 L621.20 846.19 L621.45 847.92 L621.70 849.74 L621.95 848.82 L622.20 849.29 L622.45 847.81 L622.70 849.65 L622.95 847.66 L623.20 847.86 L623.45 848.03 L623.70 846.62 L623.95 848.02 L624.20 850.21 L624.45 850.16 L624.70 850.64 L624.95 852.13 L625.20 851.97 L625.45 854.39 L625.70 852.39 L625.95 852.57 L626.20 854.20 L626.45 853.45 L626.70 854.03 L626.95 854.24 L627.20 854.54 L627.45 852.80 L627.70 853.68 L627.95 853.81 L628.20 854.50 L628.45 853.12 L628.70 853.77 L628.95 853.75 L629.20 852.21 L629.45 851.64 L629.70 851.65 L629.95 851.35 L630.20 849.60 L630.45 849.84 L630.70 848.56 L630.95 847.76 L631.20 846.71 L631.45 845.31 L631.70 842.49 L631.95 840.66 L632.20 836.63 L632.45 836.47 L632.70 831.56 L632.95 827.71 L633.20 820.97 L633.45 812.83 L633.70 803.39 L633.95 792.54 L634.20 776.73 L634.45 760.18 L634.70 747.13 L634.95 735.18 L635.20 726.70 L635.45 722.91 L635.70 724.49 L635.95 730.17 L636.20 741.06 L636.45 754.81 L636.70 770.41 L636.95 783.05 L637.20 798.96 L637.45 809.45 L637.70 818.89 L637.95 824.11 L638.20 828.55 L638.45 833.20 L638.70 836.58 L638.95 839.54 L639.20 843.51 L639.45 844.95 L639.70 846.12 L639.95 847.32 L640.20 847.87 L640.45 848.66 L640.70 849.98 L640.95 849.43 L641.20 849.86 L641.45 849.32 L641.70 849.06 L641.95 848.21 L642.20 847.98 L642.45 848.16 L642.70 848.36 L642.95 848.89 L643.20 849.92 L643.45 848.90 L643.70 849.39 L643.95 849.13 L644.20 847.42 L644.45 847.25 L644.70 847.47 L644.95 846.81 L645.20 848.21 L645.45 849.00 L645.70 850.93 L645.95 851.48 L646.20 852.90 L646.45 854.22 L646.70 855.34 L646.95 856.23 L647.20 856.85 L647.45 857.55 L647.70 856.62 L647.95 856.99 L648.20 856.62 L648.45 856.20 L648.70 856.78 L648.95 857.16 L649.20 855.81 L649.45 855.79 L649.70 856.13 L649.95 855.76 L650.20 854.03 L650.45 852.81 L650.70 850.89 L650.95 849.66 L651.20 848.04 L651.45 846.20 L651.70 841.66 L651.95 838.98 L652.20 834.78 L652.45 830.05 L652.70 823.35 L652.95 813.44 L653.20 799.94 L653.45 783.12 L653.70 762.65 L653.95 736.98 L654.20 710.06 L654.45 685.50 L654.70 666.17 L654.95 654.84 L655.20 653.48 L655.45 660.97 L655.70 674.08 L655.95 687.83 L656.20 700.20 L656.45 706.30 L656.70 703.91 L656.95 693.07 L657.20 673.88 L657.45 649.35 L657.70 624.22 L657.95 600.74 L658.20 586.14 L658.45 580.58 L658.70 586.32 L658.95 603.96 L659.20 629.28 L659.45 660.39 L659.70 692.53 L659.95 723.43 L660.20 751.34 L660.45 774.52 L660.70 792.02 L660.95 802.61 L661.20 814.41 L661.45 822.32 L661.70 828.50 L661.95 834.65 L662.20 837.26 L662.45 840.35 L662.70 843.27 L662.95 844.16 L663.20 848.14 L663.45 849.96 L663.70 850.60 L663.95 850.80 L664.20 851.96 L664.45 853.29 L664.70 854.49 L664.95 855.97 L665.20 856.23 L665.45 857.01 L665.70 856.65 L665.95 857.49 L666.20 857.07 L666.45 858.29 L666.70 856.51 L666.95 857.67 L667.20 857.02 L667.45 858.21 L667.70 857.96 L667.95 858.04 L668.20 857.64 L668.45 857.21 L668.70 856.60 L668.95 858.32 L669.20 858.01 L669.45 856.36 L669.70 857.41 L669.95 856.16 L670.20 857.35 L670.45 856.56 L670.70 856.05 L670.95 857.01 L671.20 856.62 L671.45 857.10 L671.70 857.22 L671.95 857.25 L672.20 858.50 L672.45 857.04 L672.70 856.75 L672.95 858.23 L673.20 858.54 L673.45 859.43 L673.70 859.67 L673.95 859.37 L674.20 860.26 L674.45 858.88 L674.70 859.68 L674.95 858.67 L675.20 858.67 L675.45 857.88 L675.70 859.60 L675.95 859.45 L676.20 858.28 L676.45 858.70 L676.70 859.32 L676.95 860.99 L677.20 860.43 L677.45 860.30 L677.70 860.07 L677.95 860.03 L678.20 859.93 L678.45 860.76 L678.70 859.98 L678.95 860.86 L679.20 859.92 L679.45 860.56 L679.70 859.72 L679.95 860.26 L680.20 859.81 L680.45 860.70 L680.70 861.75 L680.95 860.74 L681.20 862.03 L681.45 860.02 L681.70 859.55 L681.95 859.76 L682.20 860.33 L682.45 858.13 L682.70 859.18 L682.95 860.02 L683.20 859.74 L683.45 860.07 L683.70 859.81 L683.95 861.54 L684.20 861.27 L684.45 861.45 L684.70 860.98 L684.95 862.11 L685.20 862.11 L685.45 862.74 L685.70 862.73 L685.95 862.77 L686.20 863.16 L686.45 862.68 L686.70 862.41 L686.95 862.71 L687.20 863.10 L687.45 863.16 L687.70 862.63 L687.95 861.67 L688.20 863.17 L688.45 863.24 L688.70 863.18 L688.95 862.10 L689.20 863.31 L689.45 863.18 L689.70 862.89 L689.95 864.24 L690.20 864.25 L690.45 864.79 L690.70 864.60 L690.95 863.82 L691.20 864.11 L691.45 864.74 L691.70 863.45 L691.95 863.83 L692.20 863.93 L692.45 863.19 L692.70 864.66 L692.95 863.81 L693.20 863.48 L693.45 863.53 L693.70 863.61 L693.95 865.37 L694.20 863.97 L694.45 864.77 L694.70 864.13 L694.95 863.47 L695.20 864.54 L695.45 864.28 L695.70 863.52 L695.95 864.87 L696.20 863.47 L696.45 863.97 L696.70 863.92 L696.95 863.80 L697.20 862.56 L697.45 863.63 L697.70 864.52 L697.95 863.49 L698.20 864.02 L698.45 863.86 L698.70 863.76 L698.95 863.28 L699.20 864.18 L699.45 863.73 L699.70 863.44 L699.95 863.70 L700.20 863.53 L700.45 862.87 L700.70 863.02 L700.95 862.29 L701.20 863.20 L701.45 863.45 L701.70 864.93 L701.95 863.85 L702.20 863.55 L702.45 864.15 L702.70 863.65 L702.95 864.57 L703.20 864.72 L703.45 865.44 L703.70 865.54 L703.95 864.06 L704.20 865.14 L704.45 864.79 L704.70 863.66 L704.95 864.49 L705.20 865.04 L705.45 863.24 L705.70 864.49 L705.95 864.52 L706.20 865.19 L706.45 864.35 L706.70 864.04 L706.95 864.38 L707.20 863.84 L707.45 864.17 L707.70 864.97 L707.95 866.30 L708.20 865.01 L708.45 864.44 L708.70 863.82 L708.95 864.75 L709.20 863.70 L709.45 864.35 L709.70 863.70 L709.95 865.17 L710.20 865.89 L710.45 864.86 L710.70 863.61 L710.95 864.53 L711.20 864.64 L711.45 863.30 L711.70 865.27 L711.95 864.49 L712.20 863.80 L712.45 864.21 L712.70 863.70 L712.95 864.06 L713.20 863.90 L713.45 864.18 L713.70 864.71 L713.95 864.58 L714.20 865.28 L714.45 864.11 L714.70 864.08 L714.95 863.72 L715.20 862.84 L715.45 863.52 L715.70 863.28 L715.95 861.89 L716.20 862.66 L716.45 864.06 L716.70 864.05 L716.95 863.61 L717.20 864.09 L717.45 863.79 L717.70 864.59 L717.95 864.29 L718.20 863.43 L718.45 864.18 L718.70 864.48 L718.95 863.51 L719.20 865.06 L719.45 865.43 L719.70 864.59 L719.95 863.86 L720.20 865.07 L720.45 863.06 L720.70 862.89 L720.95 864.10 L721.20 863.78 L721.45 863.86 L721.70 863.90 L721.95 864.17 L722.20 863.33 L722.45 864.32 L722.70 863.92 L722.95 864.48 L723.20 865.07 L723.45 864.60 L723.70 865.33 L723.95 863.49 L724.20 864.38 L724.45 862.62 L724.70 864.04 L724.95 864.17 L725.20 864.06 L725.45 863.88 L725.70 865.19 L725.95 864.18 L726.20 864.58 L726.45 864.09 L726.70 864.26 L726.95 863.52 L727.20 864.25 L727.45 863.86 L727.70 864.01 L727.95 863.99 L728.20 864.33 L728.45 864.54 L728.70 863.48 L728.95 864.84 L729.20 864.04 L729.45 863.37 L729.70 862.73 L729.95 862.85 L730.20 863.84 L730.45 863.28 L730.70 863.02 L730.95 863.59 L731.20 862.94 L731.45 864.35 L731.70 864.33 L731.95 864.38 L732.20 863.53 L732.45 862.52 L732.70 863.72 L732.95 863.33 L733.20 863.31 L733.45 864.00 L733.70 863.09 L733.95 863.65 L734.20 862.87 L734.45 863.42 L734.70 864.08 L734.95 864.05 L735.20 864.64 L735.45 862.97 L735.70 863.42 L735.95 863.36 L736.20 863.94 L736.45 862.92 L736.70 863.29 L736.95 862.80 L737.20 864.94 L737.45 862.91 L737.70 864.18 L737.95 863.36 L738.20 863.12 L738.45 863.42 L738.70 863.77 L738.95 862.76 L739.20 862.02 L739.45 862.76 L739.70 864.21 L739.95 863.38 L740.20 862.83 L740.45 862.64 L740.70 862.63 L740.95 863.07 L741.20 863.44 L741.45 863.17 L741.70 863.03 L741.95 862.30 L742.20 863.15 L742.45 862.45 L742.70 861.89 L742.95 863.27 L743.20 863.49 L743.45 862.98 L743.70 862.47 L743.95 862.22 L744.20 862.57 L744.45 862.95 L744.70 863.01 L744.95 861.78 L745.20 861.18 L745.45 861.72 L745.70 860.01 L745.95 861.15 L746.20 858.24 L746.45 856.57 L746.70 857.16 L746.95 856.44 L747.20 856.19 L747.45 856.33 L747.70 857.05 L747.95 856.72 L748.20 857.09 L748.45 857.44 L748.70 859.05 L748.95 859.35 L749.20 860.65 L749.45 861.72 L749.70 862.67 L749.95 861.40 L750.20 862.73 L750.45 861.73 L750.70 862.79 L750.95 863.12 L751.20 862.02 L751.45 863.08 L751.70 862.67 L751.95 862.96 L752.20 862.91 L752.45 864.25 L752.70 863.30 L752.95 863.16 L753.20 862.26 L753.45 861.68 L753.70 862.03 L753.95 861.01 L754.20 862.72 L754.45 859.93 L754.70 861.05 L754.95 859.07 L755.20 858.04 L755.45 858.02 L755.70 857.29 L755.95 857.00 L756.20 856.09 L756.45 852.91 L756.70 852.08 L756.95 849.33 L757.20 846.64 L757.45 838.38 L757.70 833.04 L757.95 827.28 L758.20 820.42 L758.45 812.11 L758.70 805.02 L758.95 799.94 L759.20 795.32 L759.45 795.63 L759.70 799.54 L759.95 802.68 L760.20 812.82 L760.45 820.16 L760.70 828.76 L760.95 835.27 L761.20 841.42 L761.45 845.98 L761.70 847.93 L761.95 851.32 L762.20 851.84 L762.45 855.35 L762.70 855.19 L762.95 854.92 L763.20 855.11 L763.45 854.63 L763.70 850.34 L763.95 847.36 L764.20 843.65 L764.45 840.92 L764.70 836.81 L764.95 836.41 L765.20 836.55 L765.45 840.01 L765.70 843.58 L765.95 846.33 L766.20 851.94 L766.45 853.97 L766.70 856.81 L766.95 859.40 L767.20 860.71 L767.45 862.38 L767.70 863.55 L767.95 862.83 L768.20 863.41 L768.45 862.19 L768.70 862.63 L768.95 863.59 L769.20 862.45 L769.45 863.44 L769.70 861.88 L769.95 864.54 L770.20 863.23 L770.45 863.84 L770.70 863.06 L770.95 862.79 L771.20 864.05 L771.45 862.99 L771.70 863.06 L771.95 863.12 L772.20 863.80 L772.45 863.30 L772.70 862.68 L772.95 864.44 L773.20 862.53 L773.45 862.87 L773.70 863.28 L773.95 861.75 L774.20 862.96 L774.45 863.08 L774.70 863.00 L774.95 863.15 L775.20 864.42 L775.45 862.84 L775.70 864.12 L775.95 864.11 L776.20 862.55 L776.45 864.19 L776.70 863.06 L776.95 863.76 L777.20 862.42 L777.45 863.09 L777.70 863.25 L777.95 862.53 L778.20 863.80 L778.45 864.24 L778.70 863.22 L778.95 863.63 L779.20 863.38 L779.45 862.49 L779.70 863.96 L779.95 862.99 L780.20 863.29 L780.45 861.88 L780.70 863.46 L780.95 863.54 L781.20 863.15 L781.45 864.19 L781.70 863.27 L781.95 863.43 L782.20 862.72 L782.45 863.56 L782.70 864.23 L782.95 863.59 L783.20 863.67 L783.45 863.56 L783.70 863.20 L783.95 862.74 L784.20 863.28 L784.45 863.56 L784.70 862.89 L784.95 861.78 L785.20 860.85 L785.45 861.73 L785.70 860.81 L785.95 861.80 L786.20 861.38 L786.45 861.47 L786.70 861.41 L786.95 861.89 L787.20 861.85 L787.45 862.22 L787.70 862.17 L787.95 863.31 L788.20 862.87 L788.45 862.62 L788.70 863.13 L788.95 864.02 L789.20 863.15 L789.45 862.98 L789.70 862.14 L789.95 862.29 L790.20 862.36 L790.45 863.48 L790.70 863.16 L790.95 862.77 L791.20 863.81 L791.45 863.27 L791.70 862.44 L791.95 862.69 L792.20 863.68 L792.45 863.64 L792.70 862.48 L792.95 862.74 L793.20 863.41 L793.45 863.12 L793.70 862.53 L793.95 862.29 L794.20 862.15 L794.45 863.78 L794.70 862.65 L794.95 861.64 L795.20 862.80 L795.45 864.07 L795.70 862.29 L795.95 864.39 L796.20 863.57 L796.45 863.30 L796.70 863.16 L796.95 863.17 L797.20 862.29 L797.45 862.98 L797.70 862.69 L797.95 862.88 L798.20 862.70 L798.45 863.52 L798.70 863.68 L798.95 862.48 L799.20 863.09 L799.45 863.17 L799.70 863.51 L799.95 862.87 L800.20 862.93 L800.45 863.22 L800.70 862.83 L800.95 863.25 L801.20 864.17 L801.45 863.39 L801.70 863.16 L801.95 861.86 L802.20 862.61 L802.45 862.81 L802.70 863.46 L802.95 862.96 L803.20 863.14 L803.45 863.33 L803.70 862.35 L803.95 862.40 L804.20 863.68 L804.45 863.94 L804.70 863.59 L804.95 863.60 L805.20 862.98 L805.45 862.89 L805.70 862.33 L805.95 862.16 L806.20 862.16 L806.45 862.61 L806.70 862.30 L806.95 863.34 L807.20 863.23 L807.45 863.82 L807.70 862.95 L807.95 862.84 L808.20 863.02 L808.45 862.98 L808.70 862.73 L808.95 862.39 L809.20 862.43 L809.45 861.62 L809.70 863.00 L809.95 863.13 L810.20 862.10 L810.45 861.94 L810.70 861.38 L810.95 861.11 L811.20 861.69 L811.45 861.31 L811.70 861.16 L811.95 860.75 L812.20 862.33 L812.45 862.01 L812.70 862.07 L812.95 863.17 L813.20 863.20 L813.45 863.09 L813.70 862.55 L813.95 862.63 L814.20 862.10 L814.45 862.63 L814.70 861.00 L814.95 860.03 L815.20 861.36 L815.45 862.35 L815.70 862.04 L815.95 860.78 L816.20 860.36 L816.45 861.37 L816.70 861.45 L816.95 861.18 L817.20 862.21 L817.45 859.88 L817.70 860.75 L817.95 861.22 L818.20 861.30 L818.45 860.81 L818.70 861.47 L818.95 861.16 L819.20 861.28 L819.45 861.94 L819.70 861.57 L819.95 859.59 L820.20 859.94 L820.45 860.45 L820.70 861.07 L820.95 860.53 L821.20 860.44 L821.45 860.90 L821.70 860.63 L821.95 860.94 L822.20 860.51 L822.45 860.66 L822.70 861.31 L822.95 860.34 L823.20 860.55 L823.45 860.52 L823.70 861.12 L823.95 860.36 L824.20 859.68 L824.45 859.60 L824.70 860.25 L824.95 859.09 L825.20 858.98 L825.45 860.21 L825.70 860.92 L825.95 860.94 L826.20 859.90 L826.45 859.82 L826.70 860.46 L826.95 858.40 L827.20 860.87 L827.45 860.13 L827.70 860.51 L827.95 859.78 L828.20 861.65 L828.45 860.64 L828.70 860.47 L828.95 860.49 L829.20 860.48 L829.45 859.27 L829.70 860.16 L829.95 858.17 L830.20 858.64 L830.45 858.68 L830.70 859.28 L830.95 859.85 L831.20 858.48 L831.45 857.60 L831.70 857.66 L831.95 857.45 L832.20 857.71 L832.45 857.67 L832.70 856.13 L832.95 855.73 L833.20 854.37 L833.45 853.15 L833.70 851.64 L833.95 851.30 L834.20 848.68 L834.45 845.46 L834.70 842.91 L834.95 839.17 L835.20 833.32 L835.45 828.48 L835.70 820.25 L835.95 810.11 L836.20 796.54 L836.45 779.98 L836.70 759.42 L836.95 737.79 L837.20 718.13 L837.45 698.41 L837.70 684.23 L837.95 679.96 L838.20 681.30 L838.45 692.06 L838.70 708.36 L838.95 728.86 L839.20 750.21 L839.45 771.02 L839.70 789.21 L839.95 804.10 L840.20 815.55 L840.45 824.67 L840.70 833.07 L840.95 836.70 L841.20 840.97 L841.45 843.39 L841.70 848.19 L841.95 850.06 L842.20 851.96 L842.45 853.91 L842.70 855.05 L842.95 855.55 L843.20 855.65 L843.45 856.47 L843.70 856.95 L843.95 859.16 L844.20 858.25 L844.45 858.34 L844.70 859.88 L844.95 859.97 L845.20 859.44 L845.45 859.42 L845.70 859.54 L845.95 859.23 L846.20 860.03 L846.45 858.92 L846.70 860.30 L846.95 859.88 L847.20 860.13 L847.45 860.12 L847.70 860.27 L847.95 860.29 L848.20 859.08 L848.45 861.10 L848.70 860.26 L848.95 860.95 L849.20 859.34 L849.45 858.00 L849.70 859.06 L849.95 858.69 L850.20 859.66 L850.45 860.23 L850.70 860.33 L850.95 859.06 L851.20 858.76 L851.45 858.60 L851.70 858.39 L851.95 857.79 L852.20 857.02 L852.45 857.93 L852.70 858.38 L852.95 858.66 L853.20 858.93 L853.45 858.36 L853.70 857.65 L853.95 858.87 L854.20 859.17 L854.45 860.36 L854.70 860.27 L854.95 861.07 L855.20 860.66 L855.45 858.98 L855.70 859.53 L855.95 860.67 L856.20 858.98 L856.45 860.01 L856.70 861.23 L856.95 860.05 L857.20 860.12 L857.45 859.23 L857.70 860.02 L857.95 857.17 L858.20 857.38 L858.45 855.51 L858.70 855.96 L858.95 853.92 L859.20 853.93 L859.45 854.07 L859.70 853.66 L859.95 855.35 L860.20 855.95 L860.45 855.09 L860.70 855.77 L860.95 857.19 L861.20 857.40 L861.45 858.96 L861.70 858.49 L861.95 859.52 L862.20 859.43 L862.45 860.01 L862.70 860.17 L862.95 860.23 L863.20 858.16 L863.45 861.12 L863.70 859.56 L863.95 859.04 L864.20 858.79 L864.45 858.94 L864.70 859.35 L864.95 857.49 L865.20 856.43 L865.45 855.20 L865.70 854.76 L865.95 855.65 L866.20 856.54 L866.45 856.09 L866.70 857.58 L866.95 856.02 L867.20 858.40 L867.45 856.87 L867.70 857.57 L867.95 858.15 L868.20 856.95 L868.45 858.39 L868.70 857.78 L868.95 857.71 L869.20 858.75 L869.45 859.00 L869.70 857.54 L869.95 859.07 L870.20 858.65 L870.45 857.98 L870.70 857.68 L870.95 858.30 L871.20 858.94 L871.45 857.40 L871.70 859.00 L871.95 859.23 L872.20 857.11 L872.45 857.20 L872.70 858.47 L872.95 857.78 L873.20 858.64 L873.45 857.71 L873.70 857.99 L873.95 858.80 L874.20 857.14 L874.45 856.21 L874.70 853.85 L874.95 854.42 L875.20 853.27 L875.45 853.17 L875.70 852.97 L875.95 852.51 L876.20 852.04 L876.45 849.95 L876.70 850.98 L876.95 851.52 L877.20 850.68 L877.45 851.29 L877.70 851.52 L877.95 853.05 L878.20 853.55 L878.45 852.87 L878.70 854.02 L878.95 853.81 L879.20 854.12 L879.45 853.09 L879.70 851.29 L879.95 850.25 L880.20 849.42 L880.45 847.30 L880.70 846.33 L880.95 846.35 L881.20 845.62 L881.45 846.52 L881.70 845.80 L881.95 847.01 L882.20 846.43 L882.45 846.90 L882.70 847.75 L882.95 848.08 L883.20 848.59 L883.45 848.22 L883.70 846.99 L883.95 846.53 L884.20 844.07 L884.45 841.73 L884.70 839.27 L884.95 838.33 L885.20 836.72 L885.45 835.06 L885.70 834.59 L885.95 834.35 L886.20 835.02 L886.45 835.45 L886.70 834.71 L886.95 833.10 L887.20 829.45 L887.45 829.18 L887.70 826.80 L887.95 827.71 L888.20 827.91 L888.45 827.92 L888.70 831.86 L888.95 834.26 L889.20 836.76 L889.45 840.63 L889.70 842.73 L889.95 845.03 L890.20 847.69 L890.45 849.21 L890.70 852.01 L890.95 853.51 L891.20 853.61 L891.45 854.97 L891.70 854.45 L891.95 855.53 L892.20 856.51 L892.45 855.80 L892.70 855.96 L892.95 856.63 L893.20 858.68 L893.45 857.11 L893.70 857.50 L893.95 857.96 L894.20 856.88 L894.45 857.73 L894.70 857.88 L894.95 858.26 L895.20 857.09 L895.45 856.76 L895.70 857.23 L895.95 857.51 L896.20 856.91 L896.45 856.94 L896.70 857.58 L896.95 857.83 L897.20 855.73 L897.45 857.85 L897.70 857.51 L897.95 857.36 L898.20 856.89 L898.45 856.47 L898.70 857.10 L898.95 857.04 L899.20 856.38 L899.45 857.12 L899.70 856.40 L899.95 854.68 L900.20 856.08 L900.45 856.56 L900.70 854.15 L900.95 855.30 L901.20 854.24 L901.45 855.23 L901.70 852.19 L901.95 850.10 L902.20 849.41 L902.45 848.85 L902.70 846.73 L902.95 846.94 L903.20 846.63 L903.45 847.32 L903.70 848.07 L903.95 850.84 L904.20 851.41 L904.45 852.17 L904.70 854.27 L904.95 854.47 L905.20 855.59 L905.45 853.87 L905.70 855.65 L905.95 854.47 L906.20 854.36 L906.45 855.54 L906.70 856.74 L906.95 855.88 L907.20 856.51 L907.45 856.88 L907.70 857.86 L907.95 856.89 L908.20 857.97 L908.45 857.62 L908.70 857.33 L908.95 857.22 L909.20 857.28 L909.45 856.75 L909.70 857.52 L909.95 856.60 L910.20 856.49 L910.45 857.73 L910.70 856.15 L910.95 857.34 L911.20 856.40 L911.45 856.70 L911.70 856.65 L911.95 857.18 L912.20 857.45 L912.45 856.60 L912.70 856.80 L912.95 856.15 L913.20 856.69 L913.45 856.51 L913.70 857.15 L913.95 855.78 L914.20 854.80 L914.45 856.02 L914.70 856.37 L914.95 855.38 L915.20 854.86 L915.45 855.70 L915.70 856.15 L915.95 855.20 L916.20 855.31 L916.45 855.68 L916.70 855.57 L916.95 856.00 L917.20 856.29 L917.45 855.82 L917.70 856.22 L917.95 856.79 L918.20 856.65 L918.45 855.60 L918.70 854.01 L918.95 855.83 L919.20 853.38 L919.45 852.74 L919.70 853.94 L919.95 852.33 L920.20 852.68 L920.45 853.40 L920.70 853.09 L920.95 851.60 L921.20 852.10 L921.45 850.08 L921.70 849.55 L921.95 847.70 L922.20 844.71 L922.45 843.73 L922.70 841.80 L922.95 838.90 L923.20 835.49 L923.45 834.31 L923.70 832.35 L923.95 833.97 L924.20 835.03 L924.45 834.33 L924.70 836.00 L924.95 840.04 L925.20 841.54 L925.45 844.03 L925.70 846.52 L925.95 848.18 L926.20 850.32 L926.45 852.58 L926.70 851.12 L926.95 851.81 L927.20 851.06 L927.45 850.88 L927.70 851.70 L927.95 850.04 L928.20 851.66 L928.45 850.50 L928.70 850.32 L928.95 849.88 L929.20 848.94 L929.45 849.59 L929.70 847.83 L929.95 847.25 L930.20 846.78 L930.45 844.87 L930.70 842.99 L930.95 840.03 L931.20 835.92 L931.45 833.73 L931.70 829.50 L931.95 823.40 L932.20 817.91 L932.45 812.70 L932.70 807.63 L932.95 802.01 L933.20 799.64 L933.45 798.20 L933.70 796.65 L933.95 796.56 L934.20 799.73 L934.45 803.71 L934.70 808.10 L934.95 812.41 L935.20 819.89 L935.45 824.90 L935.70 829.55 L935.95 834.23 L936.20 838.39 L936.45 841.03 L936.70 845.48 L936.95 845.54 L937.20 847.24 L937.45 848.02 L937.70 849.34 L937.95 849.71 L938.20 852.00 L938.45 851.98 L938.70 851.16 L938.95 853.19 L939.20 853.93 L939.45 854.18 L939.70 856.17 L939.95 855.71 L940.20 856.01 L940.45 854.87 L940.70 855.67 L940.95 855.56 L941.20 854.62 L941.45 854.08 L941.70 854.59 L941.95 855.25 L942.20 854.34 L942.45 852.55 L942.70 852.29 L942.95 853.12 L943.20 851.98 L943.45 853.01 L943.70 852.56 L943.95 850.95 L944.20 849.18 L944.45 848.59 L944.70 846.38 L944.95 845.26 L945.20 844.20 L945.45 841.36 L945.70 837.29 L945.95 835.29 L946.20 830.94 L946.45 828.62 L946.70 825.02 L946.95 821.28 L947.20 816.62 L947.45 814.79 L947.70 812.01 L947.95 809.77 L948.20 810.81 L948.45 808.45 L948.70 808.79 L948.95 811.62 L949.20 813.88 L949.45 817.18 L949.70 821.39 L949.95 824.13 L950.20 828.45 L950.45 833.00 L950.70 836.24 L950.95 839.67 L951.20 842.30 L951.45 844.71 L951.70 846.88 L951.95 848.73 L952.20 849.19 L952.45 852.15 L952.70 853.19 L952.95 855.00 L953.20 855.77 L953.45 855.34 L953.70 856.09 L953.95 856.53 L954.20 857.69 L954.45 856.21 L954.70 856.75 L954.95 857.28 L955.20 858.09 L955.45 859.03 L955.70 857.71 L955.95 857.88 L956.20 859.02 L956.45 859.54 L956.70 859.90 L956.95 860.37 L957.20 859.93 L957.45 859.61 L957.70 860.78 L957.95 860.21 L958.20 860.69 L958.45 860.61 L958.70 860.22 L958.95 861.08 L959.20 861.17 L959.45 861.12 L959.70 860.56 L959.95 862.08 L960.20 861.35 L960.45 862.19 L960.70 861.02 L960.95 860.15 L961.20 861.01 L961.45 862.04 L961.70 861.70 L961.95 861.90 L962.20 862.18 L962.45 860.77 L962.70 861.59 L962.95 861.48 L963.20 861.51 L963.45 862.79 L963.70 862.25 L963.95 861.96 L964.20 859.93 L964.45 860.54" fill="none" stroke="#050505" stroke-width="1.15" stroke-linejoin="round"/>
<text transform="translate(610.70 542.90) rotate(-90)" font-family='"Liberation Sans", sans-serif' font-size="16.20" fill="#2b2b2b">(101)</text>
<text transform="translate(641.70 719.90) rotate(-90)" font-family='"Liberation Sans", sans-serif' font-size="16.20" fill="#2b2b2b">(0039)</text>
<text transform="translate(649.90 659.90) rotate(-90)" font-family='"Liberation Sans", sans-serif' font-size="16.20" fill="#2b2b2b">(1019)</text>
<text transform="translate(664.75 578.70) rotate(-90)" font-family='"Liberation Sans", sans-serif' font-size="16.20" fill="#2b2b2b">(1020)</text>
<text transform="translate(764.85 793.80) rotate(-90)" font-family='"Liberation Sans", sans-serif' font-size="16.20" fill="#2b2b2b">(1040)</text>
<text transform="translate(843.55 678.80) rotate(-90)" font-family='"Liberation Sans", sans-serif' font-size="16.20" fill="#2b2b2b">(110)</text>
</g>
</svg></body></html>
